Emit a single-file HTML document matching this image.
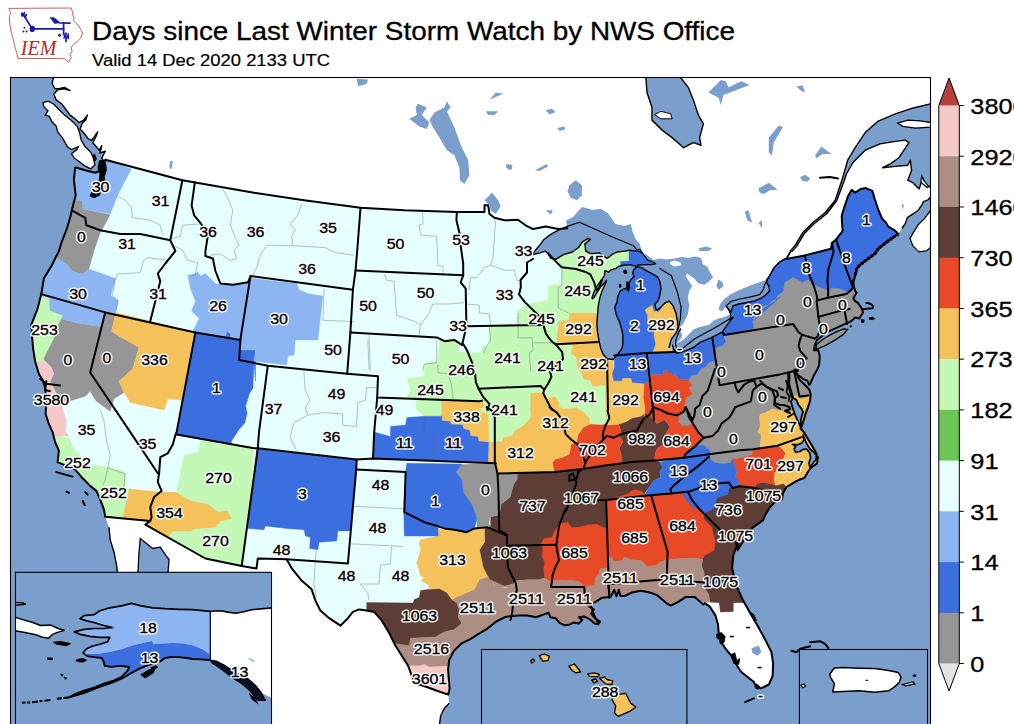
<!DOCTYPE html><html><head><meta charset="utf-8"><title>IEM</title><style>html,body{margin:0;padding:0;background:#fff}svg{display:block}text{font-family:"Liberation Sans",sans-serif}</style></head><body>
<svg width="1014" height="724" viewBox="0 0 1014 724">
<rect width="1014" height="724" fill="#fff"/>
<defs>
<clipPath id="mapclip"><rect x="10.5" y="77.5" width="920.0" height="646.5"/></clipPath>
<clipPath id="conus"><path d="M75.2,167.2 L73.9,180.2 L75.7,195.3 L73.1,205.3 L71.9,210.3 L70.1,217.8 L67.1,227.8 L61.4,242.8 L58.9,251.1 L51.4,266 L43.8,278.6 L41.3,294.1 L37.6,308.6 L31.3,324.9 L32.1,336.2 L33.1,348.7 L35.1,361.2 L38.8,373.7 L42.6,380 L45.1,387.5 L46.3,401.3 L45.6,413.8 L48.8,423.8 L52.6,432.1 L55.1,442 L58.9,450.8 L57.6,462.1 L66.4,465.8 L75.2,469.6 L82.7,478.3 L90.2,485.9 L96.4,490.9 L100.2,499.6 L104,509.7 L105.2,516.7 L150.3,520.9 L145.3,524.7 L205.4,558.5 L241.7,566 L256.5,568.5 L257.8,558.5 L286.6,559.3 L286.6,559.3 L291.6,568.1 L301.6,580.6 L311.6,589.3 L315.4,600.6 L320.4,610.6 L329.2,618.2 L340.4,625.7 L347.9,618.2 L352.9,611.9 L359.2,609.4 L366.7,610.6 L374.2,611.9 L381.8,620.7 L389.3,633.2 L395.5,645.7 L401.8,655.7 L408.1,665.7 L411.8,675.8 L415.6,683.3 L426.8,687 L436.9,690.8 L448.1,694.6 L449.6,689 L449.1,682.6 L448.1,669.6 L449.1,660.4 L453.7,651.1 L461.1,643.7 L470.4,639.1 L477.8,634.4 L487,628.9 L496.3,621.5 L505.6,616.9 L507.8,616.4 L518.4,615.5 L527.3,615.5 L536.2,617.3 L543.3,614.6 L548.6,612.8 L550.4,617.3 L555.7,618.2 L559.2,622.6 L564.6,625.3 L569.9,624.4 L573.4,622.6 L578.8,623.5 L582.3,619.9 L578.8,617.3 L584.1,616.4 L589.4,619.1 L594.7,623.5 L598.3,624.4 L600.1,621.7 L594.7,618.2 L591.2,613.7 L593.9,609.3 L589.4,606.6 L593,603.1 L596.5,601.3 L601.8,597.8 L610.7,596.9 L614.3,589.8 L616.4,596.3 L618.7,589.8 L620.5,596 L624.9,596 L632,592.4 L640.9,590.7 L649.8,592.4 L656.9,595.1 L662.2,599.5 L667.5,604 L670.8,605.6 L678.3,601.9 L685.9,596.9 L694.6,596.9 L703.4,604.4 L705,603.1 L710,606.9 L715.5,615.6 L718,624.4 L718.8,634.4 L721.3,641.9 L725.1,648.2 L731.3,655.7 L736.3,664.5 L741.3,672 L747.6,677 L753.9,682 L756.4,687.8 L761.4,688.3 L768.9,684.5 L772.6,675.8 L773.1,663.2 L771.4,652 L765.1,639.4 L757.6,625.7 L750.1,613.1 L742.6,599.4 L736.3,585.6 L732.1,568.1 L733.3,555.5 L737.6,543 L737.6,550.3 L743.8,540.3 L752.6,527.8 L763.1,520.1 L765.8,513.9 L770.3,506.8 L775.7,501.4 L782,499.6 L782.9,493.3 L786.5,487 L791,484.3 L795.4,481.6 L799,479.8 L804.4,478 L808,471.7 L811.6,467.2 L817,463.6 L817.9,457.4 L815.2,451.1 L809.8,442.1 L804.4,433.1 L801.2,428.6 L801.5,429.9 L800.5,428.3 L801.6,426 L802,425.6 L803.9,419.5 L805.4,414.2 L807.7,408.1 L810,401.3 L810.7,394.4 L809.3,389.4 L806.4,386.5 L803.4,383.5 L799.4,379.6 L797,374.7 L794.5,369.7 L797.5,374.7 L803.4,379.1 L807.3,380.6 L809.3,385 L810.3,383.5 L814.2,374.7 L817.2,369.7 L819.2,364.8 L819.7,355.9 L818.2,350 L813.9,350.2 L814.8,345.1 L816.8,340.2 L827.6,331.8 L836.5,327.8 L846.4,323.4 L850.8,321.4 L855.2,317.5 L859.2,318.5 L863.1,312.5 L862.1,309.6 L860.2,306.1 L858.2,303.2 L855.2,301.2 L853.3,298.7 L854.7,295.8 L856.7,292.8 L855.2,290.8 L853.7,285.9 L853.3,280 L852.5,286 L853.4,282.4 L855.2,275.2 L857,268 L860.6,264.4 L867.8,259 L875,253.6 L878.6,248.3 L885.7,242.9 L892.9,237.5 L898.3,233.9 L898.3,233.9 L894.7,230.3 L888.4,226.7 L885.7,222.2 L882.1,218.6 L878.6,210.5 L875,199.8 L872.3,190.8 L866,188.1 L860.6,189 L855.2,192.6 L851.6,189.9 L848,196.2 L844.4,206.9 L841.7,215.9 L842.6,231.2 L839,235.7 L836.3,239.3 L831.9,242.9 L831,248.8 L804.9,255.4 L784.5,259.2 L779.6,262.3 L774.6,267.3 L769.6,276 L764.6,284.7 L763.4,289.7 L759.7,294.7 L749.7,297.2 L739.8,299 L731,301.5 L726.1,305.9 L729.2,310.8 L731,315.8 L729.8,320 L732.9,316.9 L715,327.7 L695.2,338.5 L679,351.1 L677.2,350.2 L675.4,343.9 L676.3,338.5 L678.7,332.2 L680.8,328.6 L669.2,347.9 L669.9,344.4 L671.4,339.2 L674.4,335.4 L678.1,329.5 L680.3,319 L681.1,307.1 L677.4,292.2 L671.4,275.8 L659.5,268.3 L655,262.8 L647.8,260.1 L642.4,252.9 L637.9,251.1 L633.4,245.7 L611.9,236.7 L579.5,222.3 L568.7,225.9 L568.1,228.3 L558.1,229.1 L545.6,226.6 L533.1,229.1 L525.5,225.3 L518,219.8 L508,220.3 L504.5,220.3 L494.5,217.8 L489.5,214 L488.2,205.3 L484.5,205.3 L484.5,212 L456.9,212 L404.3,210.3 L360.5,207.8 L304.1,200.3 L254,192.7 L182.4,180.2 L105.2,159.7 L105.2,159.7 L104,166.4 L100.2,170.7 L95.2,172.7 L85.2,170.2 L75.2,167.2Z"/></clipPath>
</defs>
<g clip-path="url(#mapclip)">
<rect x="10.5" y="77.5" width="920.0" height="646.5" fill="#7b9fcc"/>
<path d="M54,77.5 L53.5,77.5 L52.1,83.3 L54.9,88.8 L59.7,88.5 L64.5,87.4 L70.1,90.5 L64.5,88.8 L57.6,89.9 L53.8,94.3 L56.2,99.9 L61.8,104 L65.9,109.5 L70.1,115.1 L75.6,119.2 L79,122.7 L83.9,119.9 L87.3,115.1 L85.9,119.9 L82.5,122.7 L80,128.9 L83.9,133 L88,138.5 L91.5,140.6 L94.9,135.8 L97.7,131.9 L96,136.5 L92.8,142.7 L96.3,146.8 L99.1,150.3 L101.8,145.7 L100.7,150.3 L99.8,153 L105.3,151.2 L101.8,157.9 L103.9,161.3 L105.2,159.7 L104,166.4 L100.2,170.7 L95.2,172.7 L85.2,170.2 L75.2,167.2 L73.9,180.2 L75.7,195.3 L73.1,205.3 L71.9,210.3 L70.1,217.8 L67.1,227.8 L61.4,242.8 L58.9,251.1 L51.4,266 L43.8,278.6 L41.3,294.1 L37.6,308.6 L31.3,324.9 L32.1,336.2 L33.1,348.7 L35.1,361.2 L38.8,373.7 L42.6,380 L45.1,387.5 L46.3,401.3 L45.6,413.8 L48.8,423.8 L52.6,432.1 L55.1,442 L58.9,450.8 L57.6,462.1 L66.4,465.8 L75.2,469.6 L82.7,478.3 L90.2,485.9 L96.4,490.9 L100.2,499.6 L104,509.7 L105.2,516.7 L109,527.2 L110.2,539.7 L114,552.2 L116.5,564.8 L117.7,574.8 L118,730 L439.4,725.9 L440.6,715.8 L444.4,708.3 L449.4,703.3 L448.1,694.6 L449.6,689 L449.1,682.6 L448.1,669.6 L449.1,660.4 L453.7,651.1 L461.1,643.7 L470.4,639.1 L477.8,634.4 L487,628.9 L496.3,621.5 L505.6,616.9 L507.8,616.4 L518.4,615.5 L527.3,615.5 L536.2,617.3 L543.3,614.6 L548.6,612.8 L550.4,617.3 L555.7,618.2 L559.2,622.6 L564.6,625.3 L569.9,624.4 L573.4,622.6 L578.8,623.5 L582.3,619.9 L578.8,617.3 L584.1,616.4 L589.4,619.1 L594.7,623.5 L598.3,624.4 L600.1,621.7 L594.7,618.2 L591.2,613.7 L593.9,609.3 L589.4,606.6 L593,603.1 L596.5,601.3 L601.8,597.8 L610.7,596.9 L614.3,589.8 L616.4,596.3 L618.7,589.8 L620.5,596 L624.9,596 L632,592.4 L640.9,590.7 L649.8,592.4 L656.9,595.1 L662.2,599.5 L667.5,604 L670.8,605.6 L678.3,601.9 L685.9,596.9 L694.6,596.9 L703.4,604.4 L705,603.1 L710,606.9 L715.5,615.6 L718,624.4 L718.8,634.4 L721.3,641.9 L725.1,648.2 L731.3,655.7 L736.3,664.5 L741.3,672 L747.6,677 L753.9,682 L756.4,687.8 L761.4,688.3 L768.9,684.5 L772.6,675.8 L773.1,663.2 L771.4,652 L765.1,639.4 L757.6,625.7 L750.1,613.1 L742.6,599.4 L736.3,585.6 L732.1,568.1 L733.3,555.5 L737.6,543 L737.6,550.3 L743.8,540.3 L752.6,527.8 L763.1,520.1 L765.8,513.9 L770.3,506.8 L775.7,501.4 L782,499.6 L782.9,493.3 L786.5,487 L791,484.3 L795.4,481.6 L799,479.8 L804.4,478 L808,471.7 L811.6,467.2 L817,463.6 L817.9,457.4 L815.2,451.1 L809.8,442.1 L804.4,433.1 L801.2,428.6 L801.5,429.9 L800.5,428.3 L801.6,426 L802,425.6 L803.9,419.5 L805.4,414.2 L807.7,408.1 L810,401.3 L810.7,394.4 L809.3,389.4 L806.4,386.5 L803.4,383.5 L799.4,379.6 L797,374.7 L794.5,369.7 L797.5,374.7 L803.4,379.1 L807.3,380.6 L809.3,385 L810.3,383.5 L814.2,374.7 L817.2,369.7 L819.2,364.8 L819.7,355.9 L818.2,350 L813.9,350.2 L814.8,345.1 L816.8,340.2 L827.6,331.8 L836.5,327.8 L846.4,323.4 L850.8,321.4 L855.2,317.5 L859.2,318.5 L863.1,312.5 L862.1,309.6 L860.2,306.1 L858.2,303.2 L855.2,301.2 L853.3,298.7 L854.7,295.8 L856.7,292.8 L855.2,290.8 L853.7,285.9 L853.3,280 L852.5,286 L853.4,282.4 L855.2,275.2 L857,268 L860.6,264.4 L867.8,259 L875,253.6 L878.6,248.3 L885.7,242.9 L892.9,237.5 L898.3,233.9 L901.9,228.5 L905.5,223.1 L907.3,217.7 L912.7,214.1 L918.1,210.5 L921.7,205.1 L923.5,201.6 L928,199.8 L930.6,197.1 L940,205 L940,188 L932.8,187.7 L925.3,185.2 L922.8,177.7 L919.1,189 L912.8,182.7 L907.8,180.2 L911.6,170.2 L910.3,160.2 L907.8,165.2 L895.3,166.4 L882.7,167.7 L890.3,163.9 L899,157.7 L904,150.2 L909,142.6 L905.3,140.1 L895.3,141.4 L880.2,143.9 L865.2,150.2 L853.2,162.2 L846.4,174 L844.4,180.2 L836.7,200.8 L826.6,213.8 L814.1,223.8 L804.1,233.8 L796.6,246.4 L791.6,251.9 L790.1,251.1 L795.1,245.4 L802.6,232.8 L812.6,222.8 L825.1,212.8 L835.2,200.3 L842.7,177.7 L847.7,160.2 L855.2,147.7 L865.2,132.6 L877.7,121.4 L895.3,113.8 L910.3,108.8 L932.8,103.3 L940,103 L940,70 L54,70Z" fill="#fff"/>
<path d="M43.1,102.6 L48,101.2 L53.5,104 L59,109.5 L64.5,115.1 L71.4,120.6 L77,126.1 L79.7,133 L81.1,139.9 L85.2,146.8 L90.8,152.3 L93.5,157.9 L94.9,164.8 L90.8,168.9 L85.2,166.2 L79.7,162 L74.2,157.9 L71.4,153.7 L77,149.6 L78.3,146.8 L71.4,149.6 L67.3,146.8 L64.5,141.3 L61.8,137.2 L57.6,131.6 L56.2,126.1 L52.1,122 L49.3,116.4 L45.2,115.1 L48,110.9 L43.8,106.8Z" fill="#fff" stroke="#000" stroke-width="1.3"/>
<path d="M930.6,210.5 L924.4,218.6 L918.1,224.9 L913.6,232.1 L910,238.4 L912.7,245.6 L919,251.9 L926.2,251 L930.6,247.4Z" fill="#fff" stroke="#000" stroke-width="1.3"/>
<path d="M897.8,123.1 L907.8,120.1 L920.3,120.9 L931.6,122.6 L931.6,127.1 L915.3,128.1 L902.8,126.4Z" fill="#fff" stroke="#000" stroke-width="1.3"/>
<path d="M816.5,344.5 L824.7,338 L834.5,332.6 L843.4,329 L847.5,329.5 L843.4,334.4 L834.5,340.4 L824.7,345.8 L815.8,349.3Z" fill="#969696" stroke="#000" stroke-width="1.3"/>
<path d="M137.8,574.8 L139,552.2 L140.3,538.5 L146.5,543.5 L152.8,548.5 L160.3,547.2 L165.3,554.7 L169.1,559.8 L167.8,574.8Z" fill="#7b9fcc" stroke="#000" stroke-width="1.3"/>
<path d="M53.5,77.5 L52.1,83.3 L54.9,88.8 L59.7,88.5 L64.5,87.4 L70.1,90.5 L64.5,88.8 L57.6,89.9 L53.8,94.3 L56.2,99.9 L61.8,104 L65.9,109.5 L70.1,115.1 L75.6,119.2 L79,122.7 L83.9,119.9 L87.3,115.1 L85.9,119.9 L82.5,122.7 L80,128.9 L83.9,133 L88,138.5 L91.5,140.6 L94.9,135.8 L97.7,131.9 L96,136.5 L92.8,142.7 L96.3,146.8 L99.1,150.3 L101.8,145.7 L100.7,150.3 L99.8,153 L105.3,151.2 L101.8,157.9 L103.9,161.3" fill="none" stroke="#000" stroke-width="1.4" stroke-linejoin="round"/>
<path d="M109,527.2 L110.2,539.7 L114,552.2 L116.5,564.8 L117.7,574.8" fill="none" stroke="#000" stroke-width="1.4" stroke-linejoin="round"/>
<path d="M449.4,703.3 L444.4,708.3 L440.6,715.8 L439.4,725.9" fill="none" stroke="#000" stroke-width="1.4" stroke-linejoin="round"/>
<path d="M901.9,228.5 L905.5,223.1 L907.3,217.7 L912.7,214.1 L918.1,210.5 L921.7,205.1 L923.5,201.6 L928,199.8 L930.6,197.1" fill="none" stroke="#000" stroke-width="1.4" stroke-linejoin="round"/>
<path d="M932.8,187.7 L925.3,185.2 L922.8,177.7 L919.1,189 L912.8,182.7 L907.8,180.2 L911.6,170.2 L910.3,160.2 L907.8,165.2 L895.3,166.4 L882.7,167.7 L890.3,163.9 L899,157.7 L904,150.2 L909,142.6 L905.3,140.1 L895.3,141.4 L880.2,143.9 L865.2,150.2 L853.2,162.2 L846.4,174 L844.4,180.2 L836.7,200.8 L826.6,213.8 L814.1,223.8 L804.1,233.8 L796.6,246.4 L791.6,251.9" fill="none" stroke="#000" stroke-width="1.4" stroke-linejoin="round"/>
<path d="M790.1,251.1 L795.1,245.4 L802.6,232.8 L812.6,222.8 L825.1,212.8 L835.2,200.3 L842.7,177.7 L847.7,160.2 L855.2,147.7 L865.2,132.6 L877.7,121.4 L895.3,113.8 L910.3,108.8 L932.8,103.3" fill="none" stroke="#000" stroke-width="1.4" stroke-linejoin="round"/>
<path d="M645.8,76.3 L647,92.5 L652,107.6 L652,120.1 L662.1,130.1 L672.1,137.6 L680.8,145.2 L683.4,147.7 L693.4,142.6 L700.9,145.2 L699.6,137.6 L703.4,123.9 L698.4,115.1 L693.4,100.1 L688.4,87.5 L679.6,76.3Z" fill="#7b9fcc" stroke="#000" stroke-width="1.4"/>
<path d="M654.5,114.6 L660.8,111.3 L670.8,113.8 L672.1,118.8 L660.8,118.8Z" fill="#fff" stroke="#000" stroke-width="1"/>
<path d="M446.9,101.3 L450.6,107.6 L446.9,111.3 L454.4,127.6 L461.9,147.7 L468.2,160.2 L469.4,175.2 L464.4,184 L459.9,180.2 L459.4,167.7 L454.4,155.2 L446.9,150.2 L439.4,137.6 L433.1,127.6 L429.4,120.1 L434.4,112.6 L444.4,107.6Z" fill="#7b9fcc"/>
<path d="M418.1,103.8 L426.8,107.6 L421.8,115.1 L429.4,122.6 L426.8,128.9 L419.3,126.4 L409.3,118.8 L416.8,115.1 L415.6,107.6Z" fill="#7b9fcc"/>
<path d="M484.5,200.3 L492,192.7 L498.2,200.3 L500.7,206.5 L495.7,214 L490.7,210.3 L489.5,205.3Z" fill="#7b9fcc"/>
<path d="M569.4,185.2 L575.6,180.2 L581.9,185.2 L581.9,195.3 L576.9,200.3 L570.6,197.8 L567.6,191.5Z" fill="#7b9fcc"/>
<path d="M718.4,279.4 L722.5,282.1 L723.2,286.3 L719,289.7 L716.3,286.3Z" fill="#7b9fcc"/>
<path d="M356.7,78.8 L368,79.5 L366.7,83.8 L358,86.3Z" fill="#7b9fcc"/>
<path d="M489.5,100.1 L495.7,92.5 L503.2,93.8 L494.5,97.6Z" fill="#7b9fcc"/>
<path d="M485.7,111.3 L498.2,111.3 L494.5,115.1 L488.2,115.1Z" fill="#7b9fcc"/>
<path d="M505.8,163.9 L509.5,165.2 L509.5,168.9 L506.5,168.2Z" fill="#7b9fcc"/>
<path d="M545.6,110.1 L551.8,108.8 L555.6,112.1 L549.3,114.6Z" fill="#7b9fcc"/>
<path d="M557.3,128.1 L564.4,126.4 L565.1,129.6 L559.4,130.9Z" fill="#7b9fcc"/>
<path d="M508,163.9 L512.5,165.2 L511.8,169.4 L508,169.4Z" fill="#7b9fcc"/>
<path d="M535.1,170.2 L546.8,163.9 L548.1,166.4 L539.3,171Z" fill="#7b9fcc"/>
<path d="M545.6,210.3 L552.6,210.3 L551.1,214.8Z" fill="#7b9fcc"/>
<path d="M708.4,92.5 L720.9,80 L725.9,81.3 L728.4,87.5 L741,81.3 L749.7,85 L733.5,91.3 L723.4,95.1 L720.9,105.1 L718.4,97.6Z" fill="#7b9fcc"/>
<path d="M744.7,211.5 L748.5,210.3 L752.2,222.8 L747.2,220.3Z" fill="#7b9fcc"/>
<path d="M758.5,187.7 L762,187.7 L762,192.7 L759.3,192.2Z" fill="#7b9fcc"/>
<path d="M758.5,222.8 L762,220.3 L762,228.3Z" fill="#7b9fcc"/>
<path d="M698.4,248.4 L705.9,246.6 L712.2,248.4 L708.4,251.1 L699.6,251.1Z" fill="#7b9fcc"/>
<path d="M796.3,86.3 L802.6,85.5 L805.1,92.5 L800.1,90Z" fill="#7b9fcc"/>
<path d="M768.8,137.6 L778.8,125.6 L783,127.1 L773.8,142.6 L772,155.2 L768.8,152.7Z" fill="#7b9fcc"/>
<path d="M815.1,155.2 L821.4,146.4 L826.4,150.2 L831.4,153.9 L822.6,153.9 L816.4,158.2Z" fill="#7b9fcc"/>
<path d="M800.1,177.2 L805.1,174.7 L810.1,178.2 L807.6,181.7 L802.1,180.7Z" fill="#7b9fcc"/>
<path d="M760,187.7 L768.8,182.7 L777.5,189.7 L770,190.2 L763.8,194 L760,192.7Z" fill="#7b9fcc"/>
<path d="M901.5,204 L904,204.8 L902.8,209.8Z" fill="#7b9fcc"/>
<path d="M170.3,161.4 L172.8,160.7 L171.3,170.2 L169.3,166.4Z" fill="#7b9fcc"/>
<path d="M790.8,251.1 L788.5,255 L786.5,258.5 L784.5,259.2 L779.6,262.3 L774.6,267.3 L769.6,276 L766.5,280.4" fill="none" stroke="#000" stroke-width="1.8" stroke-linejoin="round"/>
<path d="M921.9,175.9 L923.3,179.9 L925.8,182.8 L928.8,186.8 L926.8,187.3 L923.8,184.8 L921.4,182.8 L920.9,179.9Z" fill="#fff" stroke="#000" stroke-width="1.2"/>
<g clip-path="url(#conus)">
<path d="M75.2,167.2 L73.9,180.2 L75.7,195.3 L73.1,205.3 L71.9,210.3 L70.1,217.8 L67.1,227.8 L61.4,242.8 L58.9,251.1 L51.4,266 L43.8,278.6 L41.3,294.1 L37.6,308.6 L31.3,324.9 L32.1,336.2 L33.1,348.7 L35.1,361.2 L38.8,373.7 L42.6,380 L45.1,387.5 L46.3,401.3 L45.6,413.8 L48.8,423.8 L52.6,432.1 L55.1,442 L58.9,450.8 L57.6,462.1 L66.4,465.8 L75.2,469.6 L82.7,478.3 L90.2,485.9 L96.4,490.9 L100.2,499.6 L104,509.7 L105.2,516.7 L150.3,520.9 L145.3,524.7 L205.4,558.5 L241.7,566 L256.5,568.5 L257.8,558.5 L286.6,559.3 L286.6,559.3 L291.6,568.1 L301.6,580.6 L311.6,589.3 L315.4,600.6 L320.4,610.6 L329.2,618.2 L340.4,625.7 L347.9,618.2 L352.9,611.9 L359.2,609.4 L366.7,610.6 L374.2,611.9 L381.8,620.7 L389.3,633.2 L395.5,645.7 L401.8,655.7 L408.1,665.7 L411.8,675.8 L415.6,683.3 L426.8,687 L436.9,690.8 L448.1,694.6 L449.6,689 L449.1,682.6 L448.1,669.6 L449.1,660.4 L453.7,651.1 L461.1,643.7 L470.4,639.1 L477.8,634.4 L487,628.9 L496.3,621.5 L505.6,616.9 L507.8,616.4 L518.4,615.5 L527.3,615.5 L536.2,617.3 L543.3,614.6 L548.6,612.8 L550.4,617.3 L555.7,618.2 L559.2,622.6 L564.6,625.3 L569.9,624.4 L573.4,622.6 L578.8,623.5 L582.3,619.9 L578.8,617.3 L584.1,616.4 L589.4,619.1 L594.7,623.5 L598.3,624.4 L600.1,621.7 L594.7,618.2 L591.2,613.7 L593.9,609.3 L589.4,606.6 L593,603.1 L596.5,601.3 L601.8,597.8 L610.7,596.9 L614.3,589.8 L616.4,596.3 L618.7,589.8 L620.5,596 L624.9,596 L632,592.4 L640.9,590.7 L649.8,592.4 L656.9,595.1 L662.2,599.5 L667.5,604 L670.8,605.6 L678.3,601.9 L685.9,596.9 L694.6,596.9 L703.4,604.4 L705,603.1 L710,606.9 L715.5,615.6 L718,624.4 L718.8,634.4 L721.3,641.9 L725.1,648.2 L731.3,655.7 L736.3,664.5 L741.3,672 L747.6,677 L753.9,682 L756.4,687.8 L761.4,688.3 L768.9,684.5 L772.6,675.8 L773.1,663.2 L771.4,652 L765.1,639.4 L757.6,625.7 L750.1,613.1 L742.6,599.4 L736.3,585.6 L732.1,568.1 L733.3,555.5 L737.6,543 L737.6,550.3 L743.8,540.3 L752.6,527.8 L763.1,520.1 L765.8,513.9 L770.3,506.8 L775.7,501.4 L782,499.6 L782.9,493.3 L786.5,487 L791,484.3 L795.4,481.6 L799,479.8 L804.4,478 L808,471.7 L811.6,467.2 L817,463.6 L817.9,457.4 L815.2,451.1 L809.8,442.1 L804.4,433.1 L801.2,428.6 L801.5,429.9 L800.5,428.3 L801.6,426 L802,425.6 L803.9,419.5 L805.4,414.2 L807.7,408.1 L810,401.3 L810.7,394.4 L809.3,389.4 L806.4,386.5 L803.4,383.5 L799.4,379.6 L797,374.7 L794.5,369.7 L797.5,374.7 L803.4,379.1 L807.3,380.6 L809.3,385 L810.3,383.5 L814.2,374.7 L817.2,369.7 L819.2,364.8 L819.7,355.9 L818.2,350 L813.9,350.2 L814.8,345.1 L816.8,340.2 L827.6,331.8 L836.5,327.8 L846.4,323.4 L850.8,321.4 L855.2,317.5 L859.2,318.5 L863.1,312.5 L862.1,309.6 L860.2,306.1 L858.2,303.2 L855.2,301.2 L853.3,298.7 L854.7,295.8 L856.7,292.8 L855.2,290.8 L853.7,285.9 L853.3,280 L852.5,286 L853.4,282.4 L855.2,275.2 L857,268 L860.6,264.4 L867.8,259 L875,253.6 L878.6,248.3 L885.7,242.9 L892.9,237.5 L898.3,233.9 L898.3,233.9 L894.7,230.3 L888.4,226.7 L885.7,222.2 L882.1,218.6 L878.6,210.5 L875,199.8 L872.3,190.8 L866,188.1 L860.6,189 L855.2,192.6 L851.6,189.9 L848,196.2 L844.4,206.9 L841.7,215.9 L842.6,231.2 L839,235.7 L836.3,239.3 L831.9,242.9 L831,248.8 L804.9,255.4 L784.5,259.2 L779.6,262.3 L774.6,267.3 L769.6,276 L764.6,284.7 L763.4,289.7 L759.7,294.7 L749.7,297.2 L739.8,299 L731,301.5 L726.1,305.9 L729.2,310.8 L731,315.8 L729.8,320 L732.9,316.9 L715,327.7 L695.2,338.5 L679,351.1 L677.2,350.2 L675.4,343.9 L676.3,338.5 L678.7,332.2 L680.8,328.6 L669.2,347.9 L669.9,344.4 L671.4,339.2 L674.4,335.4 L678.1,329.5 L680.3,319 L681.1,307.1 L677.4,292.2 L671.4,275.8 L659.5,268.3 L655,262.8 L647.8,260.1 L642.4,252.9 L637.9,251.1 L633.4,245.7 L611.9,236.7 L579.5,222.3 L568.7,225.9 L568.1,228.3 L558.1,229.1 L545.6,226.6 L533.1,229.1 L525.5,225.3 L518,219.8 L508,220.3 L504.5,220.3 L494.5,217.8 L489.5,214 L488.2,205.3 L484.5,205.3 L484.5,212 L456.9,212 L404.3,210.3 L360.5,207.8 L304.1,200.3 L254,192.7 L182.4,180.2 L105.2,159.7 L105.2,159.7 L104,166.4 L100.2,170.7 L95.2,172.7 L85.2,170.2 L75.2,167.2Z" fill="#e6ffff"/>
<path d="M439.4,341.2 L438.1,361.2 L424.3,363.7 L424.3,376.3 L406.8,378.8 L410.6,390 L406.8,397.5 L416.8,398.8 L415.6,408.8 L424.3,416.3 L441.9,416.3 L444.4,403.8 L488.9,421.6 L488.9,441.7 L502.9,441.7 L502.9,437.7 L511.9,435.9 L515.4,430.5 L521.7,426.9 L524.4,425.1 L530.7,418 L531.6,400 L530.7,393.2 L544.2,392.8 L546,398.6 L555,396.8 L558.6,402.1 L559.5,410.1 L558.6,407.2 L563.9,409 L576.5,408.1 L583.7,412.6 L589.1,418 L590.9,424.3 L601.7,425.1 L608,423.4 L608.9,410.8 L607.1,400 L608,385.1 L608,359.9 L599.8,298.1 L606.5,280.3 L620.7,264.6 L620.7,261.6 L628.9,260.9 L628.9,248.9 L611.9,243.9 L590.3,233.1 L558,249.3 L548.1,253.8 L556.2,260.1 L561.6,267.2 L561.6,283.4 L558.9,287 L559.5,280 L558.6,284.5 L548.7,285.4 L547.8,300.7 L540.6,301.6 L529.8,303.4 L524.4,306 L517.2,311.4 L517.2,324 L491.2,324.9 L489.4,327.6 L489.4,345.6 L482.2,346.5 L482.2,352.8 L458,351.9 L458,342 L450.8,339.3 L440,340.2Z" fill="#c3f8b6" stroke="#c3f8b6" stroke-width="0.4"/>
<path d="M37.6,294.1 L49.3,298.6 L50.1,310.6 L63.1,315.6 L57.6,326.2 L56.4,333.7 L48.8,348.7 L43.8,358.7 L45.1,361.2 L37.6,362.5 L25.1,361.2 L25.1,326.2 L32.6,308.6Z" fill="#c3f8b6" stroke="#c3f8b6" stroke-width="0.4"/>
<path d="M50.1,435.8 L60.1,436.5 L68.9,438.3 L73.9,448.3 L87.7,464.1 L106.5,467.1 L125.3,472.1 L125.3,488.4 L129,489.1 L122.7,518.4 L105.2,518.4 L95.2,507.2 L75.2,482.1 L50.1,467.1Z" fill="#c3f8b6" stroke="#c3f8b6" stroke-width="0.4"/>
<path d="M200.4,440.8 L253.5,448.3 L250.5,514.7 L246.7,515.9 L241.7,566 L205.4,558.5 L167.8,537.2 L176.6,492.1 L184.1,455.8 L197.9,452Z" fill="#c3f8b6" stroke="#c3f8b6" stroke-width="0.4"/>
<path d="M517.2,473.6 L554.1,471.9 L580.1,469.2 L583.4,469.2 L604.9,465.6 L622,462.9 L621.1,453.9 L619.3,448.5 L622.9,441.3 L619.3,435.9 L621.1,430.5 L618.4,424.3 L626.5,421.6 L631.9,418 L640.8,416.2 L644.4,413.5 L648.9,414.4 L651.6,418 L657,423.4 L664.2,419.8 L667.8,423.4 L669.6,426.9 L666.9,432.3 L664.2,435.9 L666,441.3 L662.4,444.9 L657,448.5 L655.2,453.9 L654.3,460.2 L659.7,462 L662.4,467.4 L659.7,471.9 L660.6,477.2 L653.4,480.8 L649.8,486.2 L644.4,493.4 L651.4,496.2 L682.9,492.6 L727.8,494.4 L720.6,481.8 L734.4,479.8 L738.9,486.1 L755,487 L756.8,483.4 L763.1,482.5 L770.3,483.4 L775.7,485.2 L783.8,483.4 L786.5,487 L827.8,487 L791.9,551.7 L775.2,618.2 L742.6,603.1 L733.8,603.1 L733.8,611.9 L720,612.6 L718.8,603.1 L710,603.1 L708.9,595 L704.4,587.8 L702.6,580.6 L704.4,573.4 L701.7,566.2 L702.6,559 L641.7,561.9 L605.7,567.2 L569.8,579.8 L543.8,578 L539.3,579.8 L526.7,579.8 L515.9,580.7 L514.1,583.4 L505.1,586.1 L496.2,587 L494.4,583.4 L487.2,578 L480,576.2 L479.5,549.7 L484.5,542.2 L484.5,528.4 L490.7,525.9 L490.7,515.9 L500.7,504.6 L490.3,516.8 L499.3,515 L501.1,504.2 L510.1,497 L513.6,484.4 L517.2,479Z" fill="#5e3d36" stroke="#5e3d36" stroke-width="0.4"/>
<path d="M366.7,602.6 L413.1,603.1 L414.3,599.4 L419.3,597.6 L420.6,590.6 L429.4,589.3 L439.4,588.6 L446.9,592.6 L451.9,599.4 L456.9,603.1 L459.4,610.6 L458.2,616.9 L461.9,623.2 L454.4,629.4 L444.4,631.9 L435.6,636.9 L410.6,638.2 L409.3,645.7 L401.8,645.7 L384.3,648.2 L366.7,618.2Z" fill="#5e3d36" stroke="#5e3d36" stroke-width="0.4"/>
<path d="M389.3,641.9 L394.3,643.2 L409.3,645.7 L410.6,638.2 L435.6,636.9 L444.4,631.9 L454.4,629.4 L461.9,623.2 L458.2,616.9 L459.4,610.6 L456.9,603.1 L451.9,599.4 L456.9,596.9 L474.4,589.3 L479.5,579.3 L488.2,576.8 L495.7,586.8 L508,588.1 L487.2,578 L494.4,583.4 L496.2,587 L505.1,586.1 L514.1,583.4 L515.9,580.7 L526.7,579.8 L539.3,579.8 L543.8,578 L551,581.6 L555.4,579.8 L569.8,579.8 L579.7,581.6 L584.2,586.1 L594.1,585.2 L595,578 L598.6,574.4 L599.5,568.1 L606.6,567.2 L608.4,556.5 L612.9,557.4 L613.8,561 L621.9,560.1 L623.7,556.5 L625.4,556.3 L630.8,559 L641.6,559.9 L646.9,566.2 L655.9,565.3 L664.9,559 L679.3,558.1 L695.4,557.2 L702.6,559 L701.7,566.2 L704.4,573.4 L702.6,580.6 L704.4,587.8 L708.9,595 L709.8,603.9 L709.8,623.7 L479.5,718.4 L394.3,683.3Z" fill="#ac8e85" stroke="#ac8e85" stroke-width="0.4"/>
<path d="M62.6,209 L70.1,200.3 L82.7,200.3 L82.7,209 L110.2,214.8 L100.2,232.8 L93.9,251.1 L93.9,251 L88.9,269 L82.7,274 L72.6,271.5 L67.6,264.8 L56.4,257.3 L48.8,266 L37.6,266 L50.1,245.4Z" fill="#969696" stroke="#969696" stroke-width="0.4"/>
<path d="M61.4,319.1 L75.2,322.4 L99.7,326.7 L105.2,312.4 L115.7,312.4 L111.5,331.2 L119,336.2 L139,347.4 L132.8,368.7 L119,381.3 L124,392.5 L114,398.8 L110.2,411.3 L96.4,401.3 L90.2,391.3 L85.2,396.3 L68.9,401.3 L60.1,401.3 L50.1,381.3 L53.9,373.7 L51.4,367.5 L45.1,361.2 L43.8,358.7 L48.8,348.7 L56.4,333.7 L57.6,326.2Z" fill="#969696" stroke="#969696" stroke-width="0.4"/>
<path d="M458,464.7 L494.8,462.9 L497.5,473.6 L517.2,473.6 L517.2,479 L513.6,484.4 L510.1,497 L501.1,504.2 L499.3,515 L490.3,516.8 L488.5,523.9 L490.7,525.9 L476.9,527.2 L476.9,518.4 L471.9,504.6 L463.2,492.1 L461.9,479.6 L455.7,472.1 L461.9,464.1Z" fill="#969696" stroke="#969696" stroke-width="0.4"/>
<path d="M691.6,375.3 L697,374.4 L700.6,369 L706,366.3 L709.6,361.9 L715,361 L715.9,347.5 L722.1,345.7 L725.7,342.1 L723.9,334.9 L753.6,328.6 L752.7,321.4 L754.5,316 L759.9,313.4 L761.7,306.2 L768.9,304.4 L772.4,300.8 L780,297.2 L754.7,320 L762.1,309.6 L769.6,304.6 L775.8,300.9 L777.1,295.9 L783.3,290.9 L784.5,282.2 L793.2,277.3 L798.2,279.8 L801.9,282.2 L808.2,279.8 L812.1,283.3 L821.1,287.8 L827.4,289.6 L833.6,287.8 L840.8,288.7 L846.2,291.4 L850.7,290.5 L857,286.9 L885.7,300.8 L885.7,325.9 L819.3,379.8 L813.9,420.1 L788.3,413.4 L781.1,410.7 L772.1,408.9 L765.8,412.5 L760.4,414.3 L759.5,416.9 L760.4,425.9 L757.7,432.2 L761.3,434.9 L759.9,448.6 L753.2,449.3 L752.3,454.7 L743.4,457.4 L732.6,459.2 L730.8,461.9 L720,463.6 L733.3,462 L721.7,463.8 L712.7,462 L709.1,456.6 L710.9,453.9 L709.1,449.4 L703.7,444.9 L696.5,445.8 L689.3,449.4 L683.9,457.5 L685.7,453.9 L694.7,446.7 L703.7,437.7 L698.3,432.3 L692.9,423.4 L689.3,418 L685.7,407.2 L683.9,400 L684.4,420.1 L686.2,412.1 L684.4,405 L686.2,397.8 L692.5,394.2 L688.9,387.9 L691.6,385.2 L688.9,379.8Z" fill="#969696" stroke="#969696" stroke-width="0.4"/>
<path d="M541.1,543.9 L543.8,538.5 L551.9,537.6 L555.4,529.5 L560.8,523.2 L568,522.3 L571.6,527.7 L580.6,526.8 L587.8,525 L596.8,524.1 L603.9,527.7 L606.1,527.7 L606.6,567.2 L599.5,568.1 L598.6,574.4 L595,578 L594.1,585.2 L584.2,586.1 L579.7,581.6 L569.8,579.8 L555.4,579.8 L551,581.6 L544.7,578 L543.8,569 L544.7,561.9 L542,556.5 L542.9,549.3Z" fill="#e84a27" stroke="#e84a27" stroke-width="0.4"/>
<path d="M606.1,500.8 L629.1,493.6 L628.3,496.1 L630.1,491.6 L635.4,489.8 L639.9,490.7 L644.4,493.4 L644.4,495.2 L671.4,493.4 L682.9,492.6 L684.7,498 L690.1,503.4 L691.9,506.9 L699,509.6 L704.4,513.2 L703.5,518.6 L708,523.1 L711.6,526.7 L713.4,533.9 L715.2,541.1 L714.3,550.1 L709.8,552.8 L704.4,555.4 L702.6,559 L695.4,557.2 L679.3,558.1 L666.7,559 L664.9,559 L655.9,565.3 L646.9,566.2 L641.6,559.9 L630.8,559 L625.4,556.3 L623.7,556.5 L621.9,560.1 L613.8,561 L612.9,557.4 L608.4,556.5 L606.6,567.2Z" fill="#e84a27" stroke="#e84a27" stroke-width="0.4"/>
<path d="M554.1,471 L552.3,462.9 L555,459.3 L562.1,457.5 L569.3,453.9 L571.1,444 L576.5,442.2 L578.3,434.1 L583.7,426.9 L590,424.3 L601.7,425.1 L608,423.4 L607.6,423.4 L606.7,425.1 L618.4,424.3 L621.1,430.5 L619.3,435.9 L622.9,441.3 L619.3,448.5 L621.1,453.9 L622,462.9 L604.9,465.6 L583.4,469.2 L578,471.9 L580.1,469.2Z" fill="#e84a27" stroke="#e84a27" stroke-width="0.4"/>
<path d="M649.4,374.4 L662.9,374.4 L663.8,370.8 L669.2,370.8 L670.1,373.5 L675.4,374.4 L679,378.9 L688.9,379.8 L691.6,385.2 L688.9,387.9 L692.5,394.2 L686.2,397.8 L684.4,405 L686.2,412.1 L684.4,420.1 L685.7,407.2 L689.3,418 L692.9,423.4 L698.3,432.3 L703.7,437.7 L694.7,446.7 L685.7,453.9 L683.9,457.5 L654.3,460.2 L655.2,453.9 L657,448.5 L662.4,444.9 L666,441.3 L664.2,435.9 L666.9,432.3 L669.6,426.9 L667.8,423.4 L664.2,419.8 L657,423.4 L651.6,418 L648.9,414.4 L644.4,413.5 L644,420.1 L644.9,408.6 L643.1,397.8 L644,383.4 L648.5,381.6Z" fill="#e84a27" stroke="#e84a27" stroke-width="0.4"/>
<path d="M753.2,449.3 L777.5,445.7 L781.1,447.5 L785.6,452.9 L783.8,458.3 L778.4,461.9 L779.3,470.8 L774.8,472.6 L773.9,479.8 L775.7,485.2 L770.3,483.4 L763.1,482.5 L756.8,483.4 L755,487 L738.9,486.1 L738,479.8 L735.3,476.2 L737.1,470.8 L734.4,465.4 L732.6,459.2 L743.4,457.4 L752.3,454.7Z" fill="#e84a27" stroke="#e84a27" stroke-width="0.4"/>
<path d="M441.8,400.5 L483.1,400.5 L484,407.2 L480.4,408.1 L480.4,412.6 L487.6,413.5 L488.5,421.6 L488.9,441.7 L478.6,441.3 L477.7,436.8 L470.5,435.9 L469.6,430.5 L463.4,428.7 L462.5,425.1 L450.8,424.3 L449.9,421.6 L441.8,420.7Z" fill="#f5c15a" stroke="#f5c15a" stroke-width="0.4"/>
<path d="M531.6,399.1 L546,399.1 L558.6,407.2 L563.9,409 L576.5,408.1 L583.7,412.6 L589.1,418 L590,424.3 L583.7,426.9 L578.3,434.1 L576.5,442.2 L571.1,444 L569.3,453.9 L562.1,457.5 L555,459.3 L552.3,462.9 L554.1,471 L497.5,472.8 L494.8,462 L488.5,462 L488.5,442.2 L502.9,441.7 L502.9,437.7 L511.9,435.9 L515.4,430.5 L521.7,426.9 L524.4,425.1 L530.7,418Z" fill="#f5c15a" stroke="#f5c15a" stroke-width="0.4"/>
<path d="M530.7,411.1 L530.7,393.2 L544.2,392.8 L546,398.6 L555,396.8 L558.6,402.1 L559.5,411.1Z" fill="#f5c15a" stroke="#f5c15a" stroke-width="0.4"/>
<path d="M558.6,321.7 L569.3,320.4 L569.3,313.2 L596.3,313.2 L601.7,324.9 L601.7,342 L602.6,353.6 L607.1,359.9 L613.3,360.8 L613.3,377 L608.9,385.1 L592.7,386 L590.9,380.6 L583.7,378.8 L581.9,373.4 L578.3,368 L576.5,357.2 L571.1,353.6 L572.9,344.7 L556.8,344.3 L557.7,332.1Z" fill="#f5c15a" stroke="#f5c15a" stroke-width="0.4"/>
<path d="M606.3,420.1 L605.4,379.8 L612.6,380.7 L613.5,380.7 L621.6,380.7 L622.5,378 L631.4,378 L632.3,382.5 L644,383.4 L643.1,397.8 L644.9,408.6 L644,420.1 L644.4,413.5 L640.8,416.2 L631.9,418 L626.5,421.6 L618.4,424.3 L606.7,425.1 L609.4,418 L607.6,410.8 L608.1,400Z" fill="#f5c15a" stroke="#f5c15a" stroke-width="0.4"/>
<path d="M115.7,312.4 L195.4,332.4 L181.6,400 L167.8,398.8 L164.1,410.1 L130.3,402.6 L124,392.5 L119,381.3 L132.8,368.7 L139,347.4 L119,336.2 L111.5,331.2Z" fill="#f5c15a" stroke="#f5c15a" stroke-width="0.4"/>
<path d="M129,489.1 L160.3,492.1 L175.4,492.1 L190.4,500.9 L207.9,504.6 L217.9,512.2 L226.7,510.9 L231.7,518.4 L220.4,520.9 L215.4,527.2 L195.4,528.4 L190.4,530.9 L172.8,530.9 L167.8,537.2 L145.3,524.7 L150.3,520.9 L122.7,518.4Z" fill="#f5c15a" stroke="#f5c15a" stroke-width="0.4"/>
<path d="M438.1,529.7 L444.4,528.4 L454.4,530.2 L466.9,532.7 L474.4,529.2 L484.5,528.4 L484.5,542.2 L479.5,549.7 L483.2,567.3 L488.2,577.3 L488.2,576.8 L479.5,579.3 L474.4,589.3 L456.9,596.9 L451.9,599.4 L446.9,592.6 L439.4,588.6 L429.4,589.3 L428.1,584.3 L420.6,580.6 L424.3,578.1 L420.6,575.6 L416.8,563 L420.6,550.5 L419.3,543 L420.6,539.7 L438.1,536Z" fill="#f5c15a" stroke="#f5c15a" stroke-width="0.4"/>
<path d="M760.4,414.3 L765.8,412.5 L772.1,408.9 L781.1,410.7 L788.3,413.4 L793.6,409.8 L799,413.4 L827.8,425.9 L827.8,461.9 L804.4,478.9 L791,484.3 L786.5,487 L783.8,483.4 L775.7,485.2 L773.9,479.8 L774.8,472.6 L779.3,470.8 L778.4,461.9 L783.8,458.3 L785.6,452.9 L781.1,447.5 L777.5,445.7 L759.9,448.6 L761.3,434.9 L757.7,432.2 L760.4,425.9 L759.5,416.9Z" fill="#f5c15a" stroke="#f5c15a" stroke-width="0.4"/>
<path d="M793,397 L797,395.2 L798.6,398.2 L801.6,399 L808.4,397.1 L813,396 L813,430 L799,430 L799,420 L801,412 L797,403Z" fill="#f5c15a" stroke="#f5c15a" stroke-width="0.4"/>
<path d="M195.4,332.4 L225.5,337.4 L226.7,331.2 L230.5,333.7 L230.5,338.7 L240.5,339.9 L240,349.9 L255.5,349.9 L255.5,381.3 L253.9,363.2 L253,388 L249.7,393 L245.6,406.3 L247.2,412.9 L244.8,422.9 L239,429.5 L234.8,436.1 L231.5,441.1 L231.5,444.5 L176.6,434.5 L176.6,432.1Z" fill="#3b6edf" stroke="#3b6edf" stroke-width="0.4"/>
<path d="M257,449 L356.7,459.6 L350.4,530.9 L337.9,530.9 L336.7,541 L319.1,542.2 L317.9,549.7 L309.6,548.5 L310.4,537.2 L305.4,536 L304.1,529.7 L286.6,528.4 L265.3,525.9 L264,529.7 L247.7,528.4Z" fill="#3b6edf" stroke="#3b6edf" stroke-width="0.4"/>
<path d="M390.5,436.4 L390.5,426.4 L405.6,425.1 L406.8,417.6 L424.3,416.3 L441.9,416.3 L441.8,420.7 L449.9,421.6 L450.8,424.3 L462.5,425.1 L463.4,428.7 L469.6,430.5 L470.5,435.9 L477.7,436.8 L478.6,441.3 L488.5,442.2 L488.1,462 L373,458.3 L374.2,432Z" fill="#3b6edf" stroke="#3b6edf" stroke-width="0.4"/>
<path d="M406.8,463.3 L461.9,464.1 L455.7,472.1 L461.9,479.6 L463.2,492.1 L471.9,504.6 L476.9,518.4 L474.4,528.4 L466.9,532.2 L454.4,529.7 L444.4,528.4 L438.1,527.2 L438.1,536 L404.3,536 L403.8,512.2 L405.6,472.1Z" fill="#3b6edf" stroke="#3b6edf" stroke-width="0.4"/>
<path d="M620.7,261.6 L629,261 L629,252 L634,244 L660,244 L705,280 L705,345 L672,352.3 L646.7,352.9 L614.4,355.6 L610,340 L610,300 L620,280Z" fill="#3b6edf" stroke="#3b6edf" stroke-width="0.4"/>
<path d="M614.4,355.6 L646.7,352.9 L647.6,356.5 L648.5,381.6 L644,383.4 L632.3,382.5 L631.4,378 L622.5,378 L621.6,380.7 L613.5,380.7 L612.6,373.5 L614.4,367.2Z" fill="#3b6edf" stroke="#3b6edf" stroke-width="0.4"/>
<path d="M647.1,353.2 L675.4,352 L677.2,349.3 L693.4,343.9 L711.4,334.9 L722.1,330.4 L725.7,342.1 L722.1,345.7 L715.9,347.5 L715,361 L709.6,361.9 L706,366.3 L700.6,369 L697,374.4 L691.6,375.3 L688.9,379.8 L679,378.9 L675.4,374.4 L669.2,373.5 L668.3,370.8 L663.8,370.8 L662.9,374.4 L649.4,374.4 L648.5,369Z" fill="#3b6edf" stroke="#3b6edf" stroke-width="0.4"/>
<path d="M723,332.2 L723.9,334.9 L753.6,328.6 L752.7,321.4 L754.5,316 L759.9,313.4 L761.7,306.2 L768.9,304.4 L772.4,300.8 L780,297.2 L754.7,320 L762.1,309.6 L769.6,304.6 L775.8,300.9 L777.1,295.9 L783.3,290.9 L784.5,282.2 L793.2,277.3 L798.2,279.8 L801.9,282.2 L808.2,279.8 L812.1,283.3 L821.1,287.8 L827.4,289.6 L833.6,287.8 L840.8,288.7 L846.2,291.4 L850.7,290.5 L857,286.9 L903.7,233.9 L876.8,180 L840.8,180 L828.3,239.3 L778,251.9 L764.6,277.3 L724.8,302.1Z" fill="#3b6edf" stroke="#3b6edf" stroke-width="0.4"/>
<path d="M659.7,462 L683.9,457.5 L689.3,449.4 L696.5,445.8 L703.7,444.9 L709.1,449.4 L710.9,453.9 L709.1,456.6 L696.5,467.4 L685.7,475.4 L675,484.4 L670.5,488.9 L671.4,493.4 L644.4,495.2 L649.8,486.2 L653.4,480.8 L660.6,477.2 L659.7,471.9 L662.4,467.4Z" fill="#3b6edf" stroke="#3b6edf" stroke-width="0.4"/>
<path d="M709.1,456.6 L712.7,462 L721.7,463.8 L728.9,462.9 L732.4,462 L730.8,461.9 L732.6,459.2 L734.4,465.4 L737.1,470.8 L735.3,476.2 L738,479.8 L738.9,486.1 L730.8,487.9 L729,487.9 L728.1,493.3 L727.8,494.4 L717,498 L713.4,508.7 L704.4,513.2 L699,509.6 L691.9,506.9 L690.1,503.4 L684.7,498 L682.9,492.6 L671.4,493.4 L670.5,488.9 L675,484.4 L685.7,475.4 L696.5,467.4Z" fill="#3b6edf" stroke="#3b6edf" stroke-width="0.4"/>
<path d="M70.1,163.9 L105.2,158.9 L131.5,168.9 L125.3,180.2 L117.7,195.3 L110.2,214 L82.7,209 L82.7,200.3 L70.1,200.3 L67.6,182.7Z" fill="#8cb5f2" stroke="#8cb5f2" stroke-width="0.4"/>
<path d="M37.6,278.6 L48.8,266 L56.4,257.3 L67.6,264.8 L72.6,271.5 L82.7,274 L88.9,269 L115.7,278.6 L110.7,295.6 L118.2,300.6 L115.7,312.4 L105.2,312.4 L99.7,326.7 L75.2,322.4 L61.4,319.1 L63.1,315.6 L50.1,310.6 L49.3,298.6 L37.6,294.1Z" fill="#8cb5f2" stroke="#8cb5f2" stroke-width="0.4"/>
<path d="M187.9,276.1 L197.9,272.3 L200.4,276.1 L205.4,273.5 L215.4,283.6 L220.4,284.8 L233,284.8 L248,282.3 L250.5,277.3 L240.5,338.7 L230.5,338.7 L230.5,333.7 L226.7,331.2 L225.5,337.4 L192.9,331.2 L199.1,318.6 L191.6,311.1 L195.4,301.1 L190.4,288.6Z" fill="#8cb5f2" stroke="#8cb5f2" stroke-width="0.4"/>
<path d="M250.5,277.3 L244.2,313.6 L240,349.9 L255.5,349.9 L254,361.2 L286.6,365 L287.8,356.2 L294.1,355 L295.3,339.9 L317.9,339.9 L322.9,296.1 L307.9,293.6 L299.1,289.8 L296.6,283.6 L254,278.6Z" fill="#8cb5f2" stroke="#8cb5f2" stroke-width="0.4"/>
<path d="M644.9,309.8 L652.1,305.3 L653.9,311.6 L659.3,311.6 L662.9,305.3 L669.2,301.7 L672.8,305.3 L679,315.1 L679.9,327.7 L677.2,334 L671.9,342.1 L673.6,349.3 L671,351.1 L653,352 L655.7,343.9 L653.9,334.9 L654.8,325 L647.6,324.1 L647.6,315.1Z" fill="#f5c15a" stroke="#f5c15a" stroke-width="0.4"/>
<path d="M683.9,411.7 L679.5,416.2 L678.6,421.6 L682.1,426 L689.3,425.1 L692.9,423.4 L689.3,418 L685.7,407.2Z" fill="#969696" stroke="#969696" stroke-width="0.4"/>
<path d="M25.1,362.5 L37.6,362.5 L45.1,361.2 L51.4,367.5 L53.9,373.7 L50.1,381.3 L60.1,401.3 L66.4,421.3 L65.6,432.1 L68.9,435.8 L60.1,436.5 L50.1,435.8 L25.1,435.8Z" fill="#f6c9c9" stroke="#f6c9c9" stroke-width="0.4"/>
<path d="M404.3,665.7 L419.3,665.7 L424.3,664.5 L429.4,667 L451.9,665.7 L451.9,698.3 L404.3,698.3Z" fill="#f6c9c9" stroke="#f6c9c9" stroke-width="0.4"/>
<path d="M697.5,602.1 L718.8,603.1 L720,612.6 L733.8,611.9 L733.8,603.1 L750.1,603.1 L782.7,643.2 L782.7,703.3 L737.6,708.3 L697.5,618.2Z" fill="#ffffff" stroke="#ffffff" stroke-width="0.4"/>
<path d="M117.5,196.3 L125.1,200.1 L131.3,207.6 L132.6,217.6 L150.1,220.1 L160.1,225.2 L162.6,235.2" fill="none" stroke="#5c6c70" stroke-opacity="0.7" stroke-width="0.6"/>
<path d="M222.7,188.8 L227.8,197.6 L232.8,210.1 L230.3,225.2 L235.3,237.7 L239,245.2 L234,250.2 L236.5,259 L230.3,260.2 L220.2,254 L210.2,255.2" fill="none" stroke="#5c6c70" stroke-opacity="0.7" stroke-width="0.6"/>
<path d="M171.4,238.9 L180.2,236.4 L182.7,225.2 L200.2,223.9" fill="none" stroke="#5c6c70" stroke-opacity="0.7" stroke-width="0.6"/>
<path d="M301.7,203.9 L297.9,215.1 L290.4,223.9 L295.4,230.2 L291.6,236.4 L292.9,245.2" fill="none" stroke="#5c6c70" stroke-opacity="0.7" stroke-width="0.6"/>
<path d="M252.8,275.3 L256.6,267.7 L260.3,255.2 L266.6,245.2 L292.9,245.7 L325.5,247.7 L335.5,252.7 L354,255.2" fill="none" stroke="#5c6c70" stroke-opacity="0.7" stroke-width="0.6"/>
<path d="M172.6,245.2 L182.7,250.2 L187.7,260.2 L197.7,262.7 L195.2,275.3 L187.7,275.3" fill="none" stroke="#5c6c70" stroke-opacity="0.7" stroke-width="0.6"/>
<path d="M167.6,260.2 L147.6,257.7 L143.8,260.2 L140.1,272.7 L117.5,274 L115,280.3 L112.5,295.3 L117.5,300.3 L116.3,310.3" fill="none" stroke="#5c6c70" stroke-opacity="0.7" stroke-width="0.6"/>
<path d="M324.2,289 L322.9,320.3 L354,321.6" fill="none" stroke="#5c6c70" stroke-opacity="0.7" stroke-width="0.6"/>
<path d="M422.9,212.5 L422.9,223.8 L419.1,225.1 L420.4,235.1 L436.7,236.3 L437.9,265.2 L442.9,266.4 L442.9,272.7" fill="none" stroke="#5c6c70" stroke-opacity="0.7" stroke-width="0.6"/>
<path d="M384.1,273.9 L386.6,280.2 L394.1,281.4 L396.6,315.3 L415.4,321.5 L420.4,325.3 L419.1,335.3" fill="none" stroke="#5c6c70" stroke-opacity="0.7" stroke-width="0.6"/>
<path d="M420.4,325.3 L429.2,312.7 L432.9,304 L449.2,304 L464.2,302.7" fill="none" stroke="#5c6c70" stroke-opacity="0.7" stroke-width="0.6"/>
<path d="M493,215.1 L495.5,222.6 L493,257.6 L490.5,265.2 L484.3,267.7 L476.7,277.7 L470.5,277.7 L469.2,290.2" fill="none" stroke="#5c6c70" stroke-opacity="0.7" stroke-width="0.6"/>
<path d="M490.5,265.2 L504.3,270.2 L514.3,270.2 L516.8,280.2 L520.6,281.4" fill="none" stroke="#5c6c70" stroke-opacity="0.7" stroke-width="0.6"/>
<path d="M466.7,304 L479.3,305.2 L479.3,312.7 L489.3,314 L490.5,325.3" fill="none" stroke="#5c6c70" stroke-opacity="0.7" stroke-width="0.6"/>
<path d="M369,335.3 L370.3,371.1" fill="none" stroke="#5c6c70" stroke-opacity="0.7" stroke-width="0.6"/>
<path d="M436.7,340.3 L436.7,362.8 L424.1,364.1 L422.9,371.1" fill="none" stroke="#5c6c70" stroke-opacity="0.7" stroke-width="0.6"/>
<path d="M518.1,312.7 L518.1,337.8 L531.9,337.8 L533.1,350.3 L529.4,352.8 L530.6,371.1" fill="none" stroke="#5c6c70" stroke-opacity="0.7" stroke-width="0.6"/>
<path d="M533.1,342.8 L556.9,342.8" fill="none" stroke="#5c6c70" stroke-opacity="0.7" stroke-width="0.6"/>
<path d="M561.9,267.7 L561.9,285.2 L558.2,287.7 L558.2,307.7 L568.2,312.7" fill="none" stroke="#5c6c70" stroke-opacity="0.7" stroke-width="0.6"/>
<path d="M489.3,326.5 L490.5,340.3 L484.3,350.3 L484.3,352.8" fill="none" stroke="#5c6c70" stroke-opacity="0.7" stroke-width="0.6"/>
<path d="M303.9,371.3 L305.2,390.1 L310.2,400.1 L305.2,407.6 L307.7,415.2 L293.9,422.7 L290.1,437.7 L296.4,450.2" fill="none" stroke="#5c6c70" stroke-opacity="0.7" stroke-width="0.6"/>
<path d="M307.7,415.2 L322.7,412.6 L342.7,413.9 L342.7,425.2 L356.5,426.4 L357.8,402.6 L365.3,400.1 L366.5,387.6 L376.5,387.6" fill="none" stroke="#5c6c70" stroke-opacity="0.7" stroke-width="0.6"/>
<path d="M424.1,417.7 L424.1,435.2 L434.2,436.4 L434.2,457.7" fill="none" stroke="#5c6c70" stroke-opacity="0.7" stroke-width="0.6"/>
<path d="M437.9,363.8 L437.9,372.6 L447.9,373.8 L451.7,385.1 L452.9,398.9" fill="none" stroke="#5c6c70" stroke-opacity="0.7" stroke-width="0.6"/>
<path d="M367.8,340 L369,370.1" fill="none" stroke="#5c6c70" stroke-opacity="0.7" stroke-width="0.6"/>
<path d="M100.2,410.1 L103.9,420.1 L106.4,440.1 L110.2,455.2 L107.7,467.7 L105.2,480.2 L102.7,485.2" fill="none" stroke="#5c6c70" stroke-opacity="0.7" stroke-width="0.6"/>
<path d="M107.7,467.7 L125.2,473.9 L124,487.7" fill="none" stroke="#5c6c70" stroke-opacity="0.7" stroke-width="0.6"/>
<path d="M354,506.3 L402.8,508.8" fill="none" stroke="#5c6c70" stroke-opacity="0.7" stroke-width="0.6"/>
<path d="M351.5,543.9 L402.8,546.4" fill="none" stroke="#5c6c70" stroke-opacity="0.7" stroke-width="0.6"/>
<path d="M391.6,546.4 L390.3,563.9 L380.3,565.2 L379,584 L360.3,584 L367.8,592.7 L369,600.3" fill="none" stroke="#5c6c70" stroke-opacity="0.7" stroke-width="0.6"/>
<path d="M316.4,547.7 L313.9,582.7 L316.4,597.8" fill="none" stroke="#5c6c70" stroke-opacity="0.7" stroke-width="0.6"/>
</g>
<path d="M568.7,225.9 L558,230.4 L550.8,234.4 L543.6,239.8 L540,244.8 L531.9,254.7 L540,252.9 L545.4,251.1 L548.1,253.8 L550.8,258.3 L556.2,259.2 L563.4,254.7 L572.3,252 L578.6,247.5 L582.2,242.1 L587.6,238.5 L590.3,239.4 L584.9,243.9 L585.8,251.1 L591.2,253.8 L599.3,252.9 L603.8,256.5 L607.4,258.3 L611.9,254.7 L617.2,252 L624.4,251.1 L629.8,250.2 L635.2,251.1 L639.7,249.3 L642.4,252.9 L639.7,243.9 L635.2,238.5 L632.5,231.3 L630.7,224.1 L624.4,225.9 L615.4,224.1 L611.9,218.7 L608.3,213.4 L601.1,208.9 L592.1,209.8 L582.2,207.1 L577.7,211.6 L573.2,216.9 L566,220.5 L566.9,225.9Z" fill="#7b9fcc"/>
<path d="M568.7,225.9 L558,230.4 L550.8,234.4 L543.6,239.8 L540,244.8 L531.9,254.7 L540,252.9 L545.4,251.1 L548.1,253.8 L550.8,258.3 L556.2,259.2 L563.4,254.7 L572.3,252 L578.6,247.5 L582.2,242.1 L587.6,238.5 L590.3,239.4 L584.9,243.9 L585.8,251.1 L591.2,253.8 L599.3,252.9 L603.8,256.5 L607.4,258.3 L611.9,254.7 L617.2,252 L624.4,251.1 L629.8,250.2 L635.2,251.1 L639.7,249.3 L642.4,252.9" fill="none" stroke="#000" stroke-width="1.4" stroke-linejoin="round"/>
<path d="M637.1,266.8 L635.6,266.1 L629.6,264.6 L623.7,265.3 L619.2,266.1 L616.2,268.3 L611,269.8 L608.8,272.1 L605,270.6 L604.3,275.8 L602.1,278.8 L599.1,283.2 L596.1,287.7 L593.9,292.2 L592.1,297.4 L592.4,298.9 L594.6,296.7 L597.6,291.4 L601.3,286.2 L605,282.5 L606.5,280.3 L605,284.7 L602.1,290.7 L599.8,298.1 L598.3,305.6 L597.6,314.5 L596.8,323.5 L597.6,332.4 L599.1,341.4 L600.6,347.9 L603,354 L607,358.7 L613.2,359.5 L618,354 L622.2,347.9 L622.9,342.9 L622.9,335.4 L621.4,328 L619.2,321.3 L616.2,314.5 L614.7,307.1 L617,302.6 L617.7,296.7 L619.9,291.4 L623.7,289.2 L627.4,287.7 L628.9,283.2 L631.1,279.5 L634.1,276.5 L632.6,272.8 L634.1,269.1 L637.1,266.8Z" fill="#7b9fcc"/>
<path d="M637.1,266.8 L635.6,266.1 L629.6,264.6 L623.7,265.3 L619.2,266.1 L616.2,268.3 L611,269.8 L608.8,272.1 L605,270.6 L604.3,275.8 L602.1,278.8 L599.1,283.2 L596.1,287.7 L593.9,292.2 L592.1,297.4 L592.4,298.9 L594.6,296.7 L597.6,291.4 L601.3,286.2 L605,282.5 L606.5,280.3 L605,284.7 L602.1,290.7 L599.8,298.1 L598.3,305.6 L597.6,314.5 L596.8,323.5 L597.6,332.4 L599.1,341.4 L600.6,347.9 L603,354 L607,358.7 L613.2,359.5 L618,354 L622.2,347.9 L622.9,342.9 L622.9,335.4 L621.4,328 L619.2,321.3 L616.2,314.5 L614.7,307.1 L617,302.6 L617.7,296.7 L619.9,291.4 L623.7,289.2 L627.4,287.7 L628.9,283.2 L631.1,279.5 L634.1,276.5 L632.6,272.8 L634.1,269.1 L637.1,266.8" fill="none" stroke="#000" stroke-width="1.4" stroke-linejoin="round"/>
<path d="M656.2,263.6 L651.3,264.6 L644.5,264.6 L637.8,265 L637.1,266.8 L641.6,267.6 L647.5,271.3 L653.5,274.3 L658,277.3 L660.2,282.5 L660.9,289.2 L659.5,296.7 L658,301.1 L655,304.1 L655.7,308.6 L657.2,310.1 L660.9,307.1 L665.4,302.6 L669.2,301.1 L672.9,305.6 L675.9,313.1 L677.4,320.5 L678.1,326.5 L677.1,330.2 L678.8,328.7 L683.3,323.5 L687.8,314.5 L689.3,305.6 L687.8,298.1 L689.3,290.7 L692.3,286.2 L689.3,281.7 L685.6,275.8 L687,273.5 L693.8,278 L698.2,283.2 L704.2,284.7 L708.7,281.7 L713.1,277.3 L710.2,272.8 L707.2,266.8 L702.7,263.9 L701.2,257.9 L695.2,256.4 L687.8,257.9 L681.8,257.1 L674.4,258.6 L666.9,259.4 L659.5,258.6 L653.5,260.1 L649,256.4 L646,254.2 L644.5,252.7 L647.5,260.1 L653.5,262.4Z" fill="#7b9fcc"/>
<path d="M656.2,263.6 L651.3,264.6 L644.5,264.6 L637.8,265 L637.1,266.8 L641.6,267.6 L647.5,271.3 L653.5,274.3 L658,277.3 L660.2,282.5 L660.9,289.2 L659.5,296.7 L658,301.1 L655,304.1 L655.7,308.6 L657.2,310.1 L660.9,307.1 L665.4,302.6 L669.2,301.1 L672.9,305.6 L675.9,313.1 L677.4,320.5 L678.1,326.5 L677.1,330.2" fill="none" stroke="#000" stroke-width="1.4" stroke-linejoin="round"/>
<path d="M671.9,343 L673.6,349.3 L677.2,353.2 L684.4,351.1 L693.4,347.5 L700.6,342.1 L711.4,337.6 L722.1,332.2 L731.1,319.6 L733.8,316.9 L732.9,315.1 L729,314.8 L724.1,317.3 L719.2,318.2 L713.3,320.7 L709.3,324.7 L704.4,326.1 L699.4,327.1 L693.5,329.6 L689.6,333.5 L684.7,338.5 L680.7,341.4 L675.8,343.4 L672.8,341.4Z" fill="#7b9fcc"/>
<path d="M671.9,343 L673.6,349.3 L677.2,353.2 L684.4,351.1 L693.4,347.5 L700.6,342.1 L711.4,337.6 L722.1,332.2 L731.1,319.6 L733.8,316.9" fill="none" stroke="#000" stroke-width="1.4" stroke-linejoin="round"/>
<path d="M726.1,305.9 L731,312.1 L732.9,305.9 L738.5,304 L746,302.8 L754.7,300.9 L760.9,298.4 L765.9,294.7 L769.6,290.9 L769,286 L767.1,283.5 L766.5,279.8 L764.6,280.4 L759.7,282.2 L752.2,284.7 L744.7,287.8 L737.3,290.9 L729.8,294.7 L723.6,299.7 L719.9,304.6 L718.6,309.6 L722.3,311.5Z" fill="#7b9fcc"/>
<path d="M726.1,305.9 L731,312.1 L732.9,305.9 L738.5,304 L746,302.8 L754.7,300.9 L760.9,298.4 L765.9,294.7 L769.6,290.9 L769,286 L767.1,283.5 L766.5,279.8" fill="none" stroke="#000" stroke-width="1.4" stroke-linejoin="round"/>
<path d="M669.9,262.1 L674.4,260.6 L680.3,262.4 L681.8,265.3 L674.4,266.5 L670.6,264.6Z" fill="#fff"/>
<path d="M680.5,331.5 L682.3,336 L679.5,340.5 L675.8,343.4 L672.8,341.4 L671.5,338 L674,335 L677,332.5Z" fill="#7b9fcc"/>
<path d="M677.1,330.2 L674.4,335.4 L671.4,339.2 L669.9,344.4 L669.2,347.9 L680.8,328.6 L678.7,332.2 L676.3,338.5 L673.6,343" fill="none" stroke="#7b9fcc" stroke-width="2.2"/>
<path d="M788.5,372 L789,378 L788.5,384 L790.5,391 L792.5,398" fill="none" stroke="#000" stroke-width="3" stroke-linejoin="round"/>
<path d="M786,380 L787.5,386 L786.5,392 L789.5,397 L788.5,402" fill="none" stroke="#000" stroke-width="1.6" stroke-linejoin="round"/>
<path d="M793.5,398 L796.3,399.8 L798.6,405.1 L801.6,408.9 L803.1,411.9 L801.6,416.5 L800.8,421 L801.2,425.6 L801.3,428.6 L800.1,425.6 L797.8,421 L794.8,414.2 L792.5,407.4 L791,401.3Z" fill="#7b9fcc" stroke="#000" stroke-width="1.8" stroke-linejoin="round"/>
<path d="M803.1,434.9 L806.4,443.2 L809.8,449 L813.1,451.5 L816.4,455.2 L816,459.8 L813.1,463.1 L809.8,467.2 L808.9,463.1 L810.6,458.1 L809.8,453.1 L806.4,449 L803.1,449.4 L799.8,451.5 L795.7,452.3 L794,449 L795.7,446.5 L792.3,444.4 L797.3,444.8 L801.5,443.2 L803.9,439.9Z" fill="#7b9fcc" stroke="#000" stroke-width="1.6" stroke-linejoin="round"/>
<path d="M861.9,309.6 L869,308.6 L872.5,308.3 L873.2,306.4 L871.2,304.3 L868.2,303 L865.6,302.9" fill="none" stroke="#000" stroke-width="2" stroke-linejoin="round"/>
<path d="M751.4,648.2 L758.9,645.7 L761.4,652 L757.6,655.7 L752.6,653.2Z" fill="#7b9fcc"/>
<path d="M855.2,275.2 L857,268 L860.6,264.4 L867.8,259 L875,253.6 L878.6,248.3 L885.7,242.9 L892.9,237.5 L898.3,233.9" fill="none" stroke="#000" stroke-width="3.2" stroke-linejoin="round" stroke-dasharray="3 1.2"/>
<path d="M75.2,167.2 L73.9,180.2 L75.7,195.3 L73.1,205.3 L71.9,210.3 L70.1,217.8 L67.1,227.8 L61.4,242.8 L58.9,251.1 L51.4,266 L43.8,278.6 L41.3,294.1 L37.6,308.6 L31.3,324.9 L32.1,336.2 L33.1,348.7 L35.1,361.2 L38.8,373.7 L42.6,380 L45.1,387.5 L46.3,401.3 L45.6,413.8 L48.8,423.8 L52.6,432.1 L55.1,442 L58.9,450.8 L57.6,462.1 L66.4,465.8 L75.2,469.6 L82.7,478.3 L90.2,485.9 L96.4,490.9 L100.2,499.6 L104,509.7 L105.2,516.7 L150.3,520.9 L145.3,524.7 L205.4,558.5 L241.7,566 L256.5,568.5 L257.8,558.5 L286.6,559.3 L286.6,559.3 L291.6,568.1 L301.6,580.6 L311.6,589.3 L315.4,600.6 L320.4,610.6 L329.2,618.2 L340.4,625.7 L347.9,618.2 L352.9,611.9 L359.2,609.4 L366.7,610.6 L374.2,611.9 L381.8,620.7 L389.3,633.2 L395.5,645.7 L401.8,655.7 L408.1,665.7 L411.8,675.8 L415.6,683.3 L426.8,687 L436.9,690.8 L448.1,694.6 L449.6,689 L449.1,682.6 L448.1,669.6 L449.1,660.4 L453.7,651.1 L461.1,643.7 L470.4,639.1 L477.8,634.4 L487,628.9 L496.3,621.5 L505.6,616.9 L507.8,616.4 L518.4,615.5 L527.3,615.5 L536.2,617.3 L543.3,614.6 L548.6,612.8 L550.4,617.3 L555.7,618.2 L559.2,622.6 L564.6,625.3 L569.9,624.4 L573.4,622.6 L578.8,623.5 L582.3,619.9 L578.8,617.3 L584.1,616.4 L589.4,619.1 L594.7,623.5 L598.3,624.4 L600.1,621.7 L594.7,618.2 L591.2,613.7 L593.9,609.3 L589.4,606.6 L593,603.1 L596.5,601.3 L601.8,597.8 L610.7,596.9 L614.3,589.8 L616.4,596.3 L618.7,589.8 L620.5,596 L624.9,596 L632,592.4 L640.9,590.7 L649.8,592.4 L656.9,595.1 L662.2,599.5 L667.5,604 L670.8,605.6 L678.3,601.9 L685.9,596.9 L694.6,596.9 L703.4,604.4 L705,603.1 L710,606.9 L715.5,615.6 L718,624.4 L718.8,634.4 L721.3,641.9 L725.1,648.2 L731.3,655.7 L736.3,664.5 L741.3,672 L747.6,677 L753.9,682 L756.4,687.8 L761.4,688.3 L768.9,684.5 L772.6,675.8 L773.1,663.2 L771.4,652 L765.1,639.4 L757.6,625.7 L750.1,613.1 L742.6,599.4 L736.3,585.6 L732.1,568.1 L733.3,555.5 L737.6,543 L737.6,550.3 L743.8,540.3 L752.6,527.8 L763.1,520.1 L765.8,513.9 L770.3,506.8 L775.7,501.4 L782,499.6 L782.9,493.3 L786.5,487 L791,484.3 L795.4,481.6 L799,479.8 L804.4,478 L808,471.7 L811.6,467.2 L817,463.6 L817.9,457.4 L815.2,451.1 L809.8,442.1 L804.4,433.1 L801.2,428.6 L801.5,429.9 L800.5,428.3 L801.6,426 L802,425.6 L803.9,419.5 L805.4,414.2 L807.7,408.1 L810,401.3 L810.7,394.4 L809.3,389.4 L806.4,386.5 L803.4,383.5 L799.4,379.6 L797,374.7 L794.5,369.7 L797.5,374.7 L803.4,379.1 L807.3,380.6 L809.3,385 L810.3,383.5 L814.2,374.7 L817.2,369.7 L819.2,364.8 L819.7,355.9 L818.2,350 L813.9,350.2 L814.8,345.1 L816.8,340.2 L827.6,331.8 L836.5,327.8 L846.4,323.4 L850.8,321.4 L855.2,317.5 L859.2,318.5 L863.1,312.5 L862.1,309.6 L860.2,306.1 L858.2,303.2 L855.2,301.2 L853.3,298.7 L854.7,295.8 L856.7,292.8 L855.2,290.8 L853.7,285.9 L853.3,280 L852.5,286 L853.4,282.4 L855.2,275.2 L857,268 L860.6,264.4 L867.8,259 L875,253.6 L878.6,248.3 L885.7,242.9 L892.9,237.5 L898.3,233.9 L898.3,233.9 L894.7,230.3 L888.4,226.7 L885.7,222.2 L882.1,218.6 L878.6,210.5 L875,199.8 L872.3,190.8 L866,188.1 L860.6,189 L855.2,192.6 L851.6,189.9 L848,196.2 L844.4,206.9 L841.7,215.9 L842.6,231.2 L839,235.7 L836.3,239.3 L831.9,242.9 L831,248.8 L804.9,255.4 L784.5,259.2" fill="none" stroke="#000" stroke-width="2" stroke-linejoin="round"/>
<path d="M568.1,228.3 L558.1,229.1 L545.6,226.6 L533.1,229.1 L525.5,225.3 L518,219.8 L508,220.3 L504.5,220.3 L494.5,217.8 L489.5,214 L488.2,205.3 L484.5,205.3 L484.5,212 L456.9,212 L404.3,210.3 L360.5,207.8 L304.1,200.3 L254,192.7 L182.4,180.2 L105.2,159.7 L105.2,159.7 L104,166.4 L100.2,170.7 L95.2,172.7 L85.2,170.2 L75.2,167.2" fill="none" stroke="#000" stroke-width="2" stroke-linejoin="round"/>
<path d="M182.4,180.2 L170.3,240.3 L175.4,251 L165.3,263.5 L157.8,273.5 L160.3,281.1 L156.6,296.1 L150.3,321.1" fill="none" stroke="#000" stroke-width="2" stroke-linejoin="round" stroke-linecap="round"/>
<path d="M194.9,182.2 L191.6,205.3 L194.1,215.3 L200.4,222.8 L207.9,235.3 L205.4,251.1 L205.4,256 L212.9,258.5 L215.4,271 L220.4,283.6 L233,284.8 L248,282.3 L250.5,276.1 L240.5,338.7 L239.2,360" fill="none" stroke="#000" stroke-width="2" stroke-linejoin="round" stroke-linecap="round"/>
<path d="M71.9,210.3 L85.2,217.8 L86.4,225.3 L100.2,230.3 L120.2,234.1 L140.3,234.1 L170.3,240.3" fill="none" stroke="#000" stroke-width="2" stroke-linejoin="round" stroke-linecap="round"/>
<path d="M41.3,294.1 L105.2,312.4 L195.4,332.4 L240.5,339.9" fill="none" stroke="#000" stroke-width="2" stroke-linejoin="round" stroke-linecap="round"/>
<path d="M105.2,312.4 L90.2,372.5 L130.3,432.1 L157.8,473.3" fill="none" stroke="#000" stroke-width="2" stroke-linejoin="round" stroke-linecap="round"/>
<path d="M195.4,332.4 L176.6,432.1 L175.4,435 L172.8,444.5 L167.8,453.3 L160.3,457.1 L159.1,473.3 L157.8,482.1 L161.6,490.9 L154.1,497.1 L150.3,507.2 L151.6,517.2 L150.3,520.9" fill="none" stroke="#000" stroke-width="2" stroke-linejoin="round" stroke-linecap="round"/>
<path d="M176.6,434.5 L254,448.3 L257.8,448.3 L356.7,459.6 L373,458.6 L495.7,463.3" fill="none" stroke="#000" stroke-width="2" stroke-linejoin="round" stroke-linecap="round"/>
<path d="M239.2,360 L267.8,365.7 L347.2,373.7 L378,376.3 L377.2,397.5 L479.5,401.3 L482.2,400.6" fill="none" stroke="#000" stroke-width="2" stroke-linejoin="round" stroke-linecap="round"/>
<path d="M267.8,365.7 L259,432.1 L257.8,448.3 L241.7,566" fill="none" stroke="#000" stroke-width="2" stroke-linejoin="round" stroke-linecap="round"/>
<path d="M377.2,397.5 L374.2,432.1 L373,458.6" fill="none" stroke="#000" stroke-width="2" stroke-linejoin="round" stroke-linecap="round"/>
<path d="M356.7,459.6 L356.2,469.6 L347.9,563.5 L286.6,559.3" fill="none" stroke="#000" stroke-width="2" stroke-linejoin="round" stroke-linecap="round"/>
<path d="M356.2,469.6 L405.6,472.1 L404.3,512.2 L414.3,517.2 L424.3,522.2 L436.9,525.9 L444.4,528.4 L454.4,529.7 L466.9,532.2 L474.4,528.4 L487,527.2 L495.7,530.9 L504.5,534.7 L506.9,534.9 L506.9,545.7 L507.8,567.2 L512.3,576.2 L515.9,583.4 L516.8,590.6 L513.2,601.4 L512.3,612.1 L510.5,620.1" fill="none" stroke="#000" stroke-width="2" stroke-linejoin="round" stroke-linecap="round"/>
<path d="M250.5,276.1 L352.9,289.8" fill="none" stroke="#000" stroke-width="2" stroke-linejoin="round" stroke-linecap="round"/>
<path d="M360.5,207.8 L357.2,251.1 L355.5,270.5 L352.9,289.8 L350.4,332.4 L347.2,373.7" fill="none" stroke="#000" stroke-width="2" stroke-linejoin="round" stroke-linecap="round"/>
<path d="M355.5,270.5 L463.2,275.3" fill="none" stroke="#000" stroke-width="2" stroke-linejoin="round" stroke-linecap="round"/>
<path d="M350.4,332.4 L436.9,337.4 L444.4,341.2 L454.4,339.9 L461.9,344.9" fill="none" stroke="#000" stroke-width="2" stroke-linejoin="round" stroke-linecap="round"/>
<path d="M456.9,212 L456.4,220.3 L459.4,232.8 L461.4,251.1 L463.2,263.5 L463.2,275.3 L460.7,282.3 L465.7,288.6 L466.4,326.2 L465.1,332.1 L462.5,342.9 L466.9,350.1 L471.4,360.8 L475,373.4 L475.9,382.4 L478.6,388.7 L483.1,396.8 L489.4,403.9 L487.6,410.1 L486.7,407.2 L492.1,410.8 L494.8,418 L494.8,462 L497.5,473.6 L498.4,489.8 L499.3,530.1 L506.9,534.9" fill="none" stroke="#000" stroke-width="2" stroke-linejoin="round" stroke-linecap="round"/>
<path d="M466.6,326.3 L543.3,324.9" fill="none" stroke="#000" stroke-width="2" stroke-linejoin="round" stroke-linecap="round"/>
<path d="M478.6,388.7 L540.6,386 L544.2,389.6" fill="none" stroke="#000" stroke-width="2" stroke-linejoin="round" stroke-linecap="round"/>
<path d="M533,259 L527,262.5 L527,272.5 L520.6,280 L520.8,287.2 L519,294.4 L524.4,301.6 L529.8,306.9 L535.2,312.3 L540.6,317.7 L543.3,324.9 L546,333.9 L551.4,341.1 L556.8,345.6 L562.1,351.9 L563,359 L558.6,364.4 L555,366.2 L549.6,369.8 L551.4,377 L547.8,384.2 L544.2,389.6 L543.3,393.2 L546,398.6 L549.6,405.7 L552.3,410.1 L549.6,407.2 L556.8,412.6 L562.1,419.8 L563.9,426.9 L565.7,434.1 L571.1,439.5 L578.3,444.9 L581.9,452.1 L583.7,457.5 L585.5,462.9 L583.7,468.3 L578.3,471.9 L576.5,479 L569.3,480.8 L569.3,475.4 L572.9,473.6 L576.5,482.6 L572.9,493.4 L569.3,502.4 L565.7,511.4 L568,506.2 L564.4,511.6 L559,525.9 L556.3,544.8 L557.2,551.1 L559,560.1 L555.4,567.2 L552.8,574.4 L551.9,581.6 L551,587 L584.2,587 L585.1,597.8 L587.8,605" fill="none" stroke="#000" stroke-width="2" stroke-linejoin="round" stroke-linecap="round"/>
<path d="M555.9,344.3 L599,342" fill="none" stroke="#000" stroke-width="2" stroke-linejoin="round" stroke-linecap="round"/>
<path d="M607.1,359.9 L608,410.1 L607.6,410.8 L609.4,418 L605.8,425.1 L603.1,432.3 L603.1,439.5" fill="none" stroke="#000" stroke-width="2" stroke-linejoin="round" stroke-linecap="round"/>
<path d="M585.5,462 L590.9,453.9 L596.3,446.7 L602.6,440.4 L606.7,435.9 L613.9,437.7 L621.1,434.1 L628.3,432.3 L637.2,430.5 L640.8,423.4 L644.4,418 L649.8,414.4 L653.4,407.2 L660.6,409.9 L667.8,413.5 L676.8,415.3 L683.9,411.7 L685.7,407.2 L692.5,420.1 L694.3,415.7 L695.2,408.6 L699.7,405 L702.4,396 L707.8,390.6 L711.4,379.8 L715,369" fill="none" stroke="#000" stroke-width="2" stroke-linejoin="round" stroke-linecap="round"/>
<path d="M614.4,355.6 L646.7,352.9 L675.4,352" fill="none" stroke="#000" stroke-width="2" stroke-linejoin="round" stroke-linecap="round"/>
<path d="M646.7,352.9 L653,408.6 L653.9,420.1 L653.4,407.2" fill="none" stroke="#000" stroke-width="2" stroke-linejoin="round" stroke-linecap="round"/>
<path d="M712.3,337.6 L719.5,385.2 L780,374.4 L793.5,371.2" fill="none" stroke="#000" stroke-width="2" stroke-linejoin="round" stroke-linecap="round"/>
<path d="M723,332.2 L723.9,334.9 L780,325.9 L793.2,324.1 L798.6,332.2 L802.2,334.9 L800.4,338.5 L798.6,345.7 L800.4,351.1 L806.7,358.3 L803.1,361 L798.6,365.4 L797.7,370.8" fill="none" stroke="#000" stroke-width="2" stroke-linejoin="round" stroke-linecap="round"/>
<path d="M802.2,334.9 L814.8,338.5" fill="none" stroke="#000" stroke-width="2" stroke-linejoin="round" stroke-linecap="round"/>
<path d="M497.5,473.6 L554.1,471.9 L580.1,469.2" fill="none" stroke="#000" stroke-width="2" stroke-linejoin="round" stroke-linecap="round"/>
<path d="M578,471.9 L581.6,469.2 L604.9,465.6 L631.9,462 L658.8,460.2 L685.7,457.5 L710.9,453.9 L740,450.3 L753.2,449.3 L777.5,445.7 L801.7,437.1" fill="none" stroke="#000" stroke-width="2" stroke-linejoin="round" stroke-linecap="round"/>
<path d="M569.8,500.8 L606.1,499.9 L649.8,495.2 L671.4,493.4 L689.3,491.6 L703.7,486.2 L716.3,483.5 L728.9,482.6 L732.4,488 L740,486.2 L755.9,487.9 L763.1,490.6 L773.9,500.5" fill="none" stroke="#000" stroke-width="2" stroke-linejoin="round" stroke-linecap="round"/>
<path d="M709.1,456.6 L696.5,467.4 L685.7,475.4 L675,484.4 L670.5,488.9 L671.4,493.4" fill="none" stroke="#000" stroke-width="2" stroke-linejoin="round" stroke-linecap="round"/>
<path d="M685.7,407.2 L689.3,418 L692.9,423.4 L698.3,432.3 L703.7,437.7 L694.7,446.7 L685.7,453.9 L683.9,457.5" fill="none" stroke="#000" stroke-width="2" stroke-linejoin="round" stroke-linecap="round"/>
<path d="M703.7,437.7 L712.7,435.9 L718.1,430.5 L721.7,423.4 L728.9,418 L732.4,412.6 L735.1,407.2 L740,405.4 L750.9,401.4 L752.7,390.6 L756.3,387 L754.5,380.7 L749.1,381.6 L743.7,385.2 L738.3,392.4 L735.6,387 L734.7,382.5" fill="none" stroke="#000" stroke-width="2" stroke-linejoin="round" stroke-linecap="round"/>
<path d="M756.3,387 L761.7,383.4 L767.1,387 L772.4,390.6 L775.1,397.8 L774.2,405 L780,408.6" fill="none" stroke="#000" stroke-width="2" stroke-linejoin="round" stroke-linecap="round"/>
<path d="M606.1,499.9 L609.3,597.8" fill="none" stroke="#000" stroke-width="2" stroke-linejoin="round" stroke-linecap="round"/>
<path d="M651.4,496.2 L667.6,551.9 L666.7,579.7" fill="none" stroke="#000" stroke-width="2" stroke-linejoin="round" stroke-linecap="round"/>
<path d="M688.3,492.6 L691.9,499.8 L699,508.7 L706.2,515.9 L713.4,523.1 L720.6,530.3 L727.8,535.7 L735,541.1 L736.8,544.7" fill="none" stroke="#000" stroke-width="2" stroke-linejoin="round" stroke-linecap="round"/>
<path d="M609.5,596.9 L608.2,584.3 L665.8,579.3 L666.7,579.7 L704.4,582.4 L727.8,580.6 L735,577.9" fill="none" stroke="#000" stroke-width="2" stroke-linejoin="round" stroke-linecap="round"/>
<path d="M506.9,545.7 L556.3,544.8" fill="none" stroke="#000" stroke-width="2" stroke-linejoin="round" stroke-linecap="round"/>
<path d="M804.9,255.4 L806.7,264.4 L809.4,275.2 L813.9,286 L816.6,295 L817.5,300.4 L816.6,300.8 L818.4,316.9 L820.2,328.6 L817.5,336.7 L814.8,338.5" fill="none" stroke="#000" stroke-width="2" stroke-linejoin="round" stroke-linecap="round"/>
<path d="M831.9,242.9 L833.6,251.9 L831,260.8 L828.3,269.8 L827.4,280.6 L828.3,291.4 L827.9,297.7" fill="none" stroke="#000" stroke-width="2" stroke-linejoin="round" stroke-linecap="round"/>
<path d="M836.3,239.3 L837.2,242.9 L844.4,264.4 L852.5,286" fill="none" stroke="#000" stroke-width="2" stroke-linejoin="round" stroke-linecap="round"/>
<path d="M817.5,300.4 L827.9,297.7 L846.2,294.1 L851.6,289.6 L853.4,286.9" fill="none" stroke="#000" stroke-width="2" stroke-linejoin="round" stroke-linecap="round"/>
<path d="M818.4,316.9 L844.4,309.8 L849.8,308.9" fill="none" stroke="#000" stroke-width="2" stroke-linejoin="round" stroke-linecap="round"/>
<path d="M844.4,309.8 L847.1,324.1" fill="none" stroke="#000" stroke-width="2" stroke-linejoin="round" stroke-linecap="round"/>
<path d="M793.5,371.2 L795.5,369.5 L797,371 L794.3,371.5 L799.4,396.4 L808.3,395.4" fill="none" stroke="#000" stroke-width="2" stroke-linejoin="round" stroke-linecap="round"/>
<path d="M548.1,253.2 L556.2,261.9 L561.6,267.2 L575.9,269 L584.9,271.7 L590.3,274.4 L593.9,281.6 L595.7,287.9 L597.5,290.6 L600.2,285.2 L602,279.8" fill="none" stroke="#000" stroke-width="2" stroke-linejoin="round" stroke-linecap="round"/>
<path d="M568.7,225.9 L579.5,222.3 L611.9,236.7 L633.4,245.7 L637.9,251.1 L642.4,252.9 L647.8,260.1 L655,262.8" fill="none" stroke="#000" stroke-width="1.2" stroke-linejoin="round"/>
<path d="M659.5,268.3 L671.4,275.8 L677.4,292.2 L681.1,307.1 L680.3,319 L678.1,329.5 L674.4,335.4 L671.4,339.2 L669.9,344.4 L669.2,347.9" fill="none" stroke="#000" stroke-width="1.2" stroke-linejoin="round"/>
<path d="M680.8,328.6 L678.7,332.2 L676.3,338.5 L675.4,343.9 L677.2,350.2 L679,351.1 L695.2,338.5 L715,327.7 L732.9,316.9 L729.8,320 L731,315.8 L729.2,310.8 L726.1,305.9 L731,301.5 L739.8,299 L749.7,297.2 L759.7,294.7 L763.4,289.7 L764.6,284.7 L769.6,276 L774.6,267.3 L779.6,262.3 L784.5,259.2" fill="none" stroke="#000" stroke-width="1.2" stroke-linejoin="round"/>
<path d="M820,177.7 L830,177 L838,178.5" fill="none" stroke="#000" stroke-width="2" stroke-linejoin="round" stroke-linecap="round"/>
<path d="M40.1,378.8 L46.3,383.8 L60.1,385.5" fill="none" stroke="#000" stroke-width="2" stroke-linejoin="round" stroke-linecap="round"/>
<path d="M46.3,381.3 L45.1,390 L50.1,391.3" fill="none" stroke="#000" stroke-width="2" stroke-linejoin="round" stroke-linecap="round"/>
<path d="M760,380.6 L765.9,386.5 L776.8,391.4 L778.2,395.4 L774.8,398.3 L774.8,403.3 L779.7,404.7 L784.7,405.2 L789.6,407.2" fill="none" stroke="#000" stroke-width="2" stroke-linejoin="round" stroke-linecap="round"/>
<path d="M783,390 L779,388" fill="none" stroke="#000" stroke-width="2" stroke-linejoin="round" stroke-linecap="round"/>
<path d="M786,398 L781,397" fill="none" stroke="#000" stroke-width="2" stroke-linejoin="round" stroke-linecap="round"/>
<path d="M790,409 L785,411 L790,413" fill="none" stroke="#000" stroke-width="2" stroke-linejoin="round" stroke-linecap="round"/>
<path d="M793,414 L788,417" fill="none" stroke="#000" stroke-width="2" stroke-linejoin="round" stroke-linecap="round"/>
<path d="M56.4,472.1 L65.1,474.6 L72.6,476.6" fill="none" stroke="#000" stroke-width="2" stroke-linejoin="round" stroke-linecap="round"/>
<path d="M66.4,491.6 L68.9,492.9" fill="none" stroke="#000" stroke-width="2" stroke-linejoin="round" stroke-linecap="round"/>
<path d="M85.2,492.1 L87.7,494.6" fill="none" stroke="#000" stroke-width="2" stroke-linejoin="round" stroke-linecap="round"/>
<path d="M82.7,500.9 L84.7,505.1" fill="none" stroke="#000" stroke-width="2" stroke-linejoin="round" stroke-linecap="round"/>
<path d="M590.7,605.6 L594.4,615.6 L598.2,623.2" fill="none" stroke="#000" stroke-width="2" stroke-linejoin="round" stroke-linecap="round"/>
<path d="M745.1,702.1 L753.9,698.3" fill="none" stroke="#000" stroke-width="2" stroke-linejoin="round" stroke-linecap="round"/>
<path d="M791.4,650.7 L796.4,652.2 L800.2,648.7 L810.2,646.2" fill="none" stroke="#000" stroke-width="2" stroke-linejoin="round" stroke-linecap="round"/>
<path d="M810.2,642.2 L820.2,641.2 L825.3,644 L828.3,648.2" fill="none" stroke="#000" stroke-width="2" stroke-linejoin="round" stroke-linecap="round"/>
<path d="M626.7,281.7 L629.3,282.5 L629.6,287.7 L628.4,291.4 L626.7,289.9Z" fill="#000" stroke="#000" stroke-width="0.8" stroke-linejoin="round"/>
<path d="M623.4,270.9 L625.9,269.8 L627,273.1 L624.6,273.7Z" fill="#000" stroke="#000" stroke-width="0.8" stroke-linejoin="round"/>
<path d="M619.2,284.7 L620.7,284.1 L621.1,287 L619.5,287.4Z" fill="#000" stroke="#000" stroke-width="0.8" stroke-linejoin="round"/>
<path d="M716.4,634.5 L721.3,632.5 L725.1,636.4 L724.2,642.2 L720.3,644.1 L719.3,639.3 L717,638.3Z" fill="#000" stroke="#000" stroke-width="0.8" stroke-linejoin="round"/>
<path d="M730.9,654.8 L734.8,652.8 L736.8,660.6 L739.7,658.6 L738.7,664.4 L733.8,663.5Z" fill="#000" stroke="#000" stroke-width="0.8" stroke-linejoin="round"/>
<path d="M750.7,612.2 L754.2,615.1 L756.5,620.9 L754.2,618Z" fill="#000" stroke="#000" stroke-width="0.8" stroke-linejoin="round"/>
<path d="M756.1,683.8 L760,686.7 L758,689.2 L755.1,687.7Z" fill="#000" stroke="#000" stroke-width="0.8" stroke-linejoin="round"/>
<path d="M99.4,160.8 L102.9,159.9 L105.9,164.8 L106.4,169.7 L104.4,176.6 L104.9,181.6 L100.9,187.5 L99.9,194.9 L94.5,197.8 L90.1,196.2 L91.1,192.9 L94,190.4 L96,186 L99.4,179.6 L99.9,173.7 L98,167.8Z" fill="#000" stroke="#000" stroke-width="0.8" stroke-linejoin="round"/>
<path d="M92.5,155.9 L94.5,153.9 L96.5,158.9 L94.5,161.8Z" fill="#000" stroke="#000" stroke-width="0.8" stroke-linejoin="round"/>
<path d="M861.1,319.4 L864.1,319.9 L863.9,322.4 L861.6,322.2Z" fill="#000" stroke="#000" stroke-width="0.8" stroke-linejoin="round"/>
<path d="M869,317.7 L873,317.3 L875,318.7 L872.5,319.6 L869.5,319.3Z" fill="#000" stroke="#000" stroke-width="0.8" stroke-linejoin="round"/>
<path d="M850.1,325.9 L851.3,325.6 L851.5,326.9 L850.3,327.1Z" fill="#000" stroke="#000" stroke-width="0.8" stroke-linejoin="round"/>
<text x="160.5" y="206" font-size="14.4" text-anchor="middle" fill="#fff" stroke="#fff" stroke-width="3" stroke-linejoin="round" textLength="17.7" lengthAdjust="spacingAndGlyphs">31</text>
<text x="160.5" y="206" font-size="14.4" text-anchor="middle" fill="#000" stroke="#000" stroke-width="0.35" textLength="17.7" lengthAdjust="spacingAndGlyphs">31</text>
<text x="127.0" y="248.5" font-size="14.4" text-anchor="middle" fill="#fff" stroke="#fff" stroke-width="3" stroke-linejoin="round" textLength="17.7" lengthAdjust="spacingAndGlyphs">31</text>
<text x="127.0" y="248.5" font-size="14.4" text-anchor="middle" fill="#000" stroke="#000" stroke-width="0.35" textLength="17.7" lengthAdjust="spacingAndGlyphs">31</text>
<text x="208.0" y="237" font-size="14.4" text-anchor="middle" fill="#fff" stroke="#fff" stroke-width="3" stroke-linejoin="round" textLength="17.7" lengthAdjust="spacingAndGlyphs">36</text>
<text x="208.0" y="237" font-size="14.4" text-anchor="middle" fill="#000" stroke="#000" stroke-width="0.35" textLength="17.7" lengthAdjust="spacingAndGlyphs">36</text>
<text x="255.5" y="237" font-size="14.4" text-anchor="middle" fill="#fff" stroke="#fff" stroke-width="3" stroke-linejoin="round" textLength="17.7" lengthAdjust="spacingAndGlyphs">36</text>
<text x="255.5" y="237" font-size="14.4" text-anchor="middle" fill="#000" stroke="#000" stroke-width="0.35" textLength="17.7" lengthAdjust="spacingAndGlyphs">36</text>
<text x="328.0" y="232.5" font-size="14.4" text-anchor="middle" fill="#fff" stroke="#fff" stroke-width="3" stroke-linejoin="round" textLength="17.7" lengthAdjust="spacingAndGlyphs">35</text>
<text x="328.0" y="232.5" font-size="14.4" text-anchor="middle" fill="#000" stroke="#000" stroke-width="0.35" textLength="17.7" lengthAdjust="spacingAndGlyphs">35</text>
<text x="307.0" y="273.5" font-size="14.4" text-anchor="middle" fill="#fff" stroke="#fff" stroke-width="3" stroke-linejoin="round" textLength="17.7" lengthAdjust="spacingAndGlyphs">36</text>
<text x="307.0" y="273.5" font-size="14.4" text-anchor="middle" fill="#000" stroke="#000" stroke-width="0.35" textLength="17.7" lengthAdjust="spacingAndGlyphs">36</text>
<text x="395.5" y="248.5" font-size="14.4" text-anchor="middle" fill="#fff" stroke="#fff" stroke-width="3" stroke-linejoin="round" textLength="17.7" lengthAdjust="spacingAndGlyphs">50</text>
<text x="395.5" y="248.5" font-size="14.4" text-anchor="middle" fill="#000" stroke="#000" stroke-width="0.35" textLength="17.7" lengthAdjust="spacingAndGlyphs">50</text>
<text x="461.0" y="244.5" font-size="14.4" text-anchor="middle" fill="#fff" stroke="#fff" stroke-width="3" stroke-linejoin="round" textLength="17.7" lengthAdjust="spacingAndGlyphs">53</text>
<text x="461.0" y="244.5" font-size="14.4" text-anchor="middle" fill="#000" stroke="#000" stroke-width="0.35" textLength="17.7" lengthAdjust="spacingAndGlyphs">53</text>
<text x="78.0" y="298.5" font-size="14.4" text-anchor="middle" fill="#fff" stroke="#fff" stroke-width="3" stroke-linejoin="round" textLength="17.7" lengthAdjust="spacingAndGlyphs">30</text>
<text x="78.0" y="298.5" font-size="14.4" text-anchor="middle" fill="#000" stroke="#000" stroke-width="0.35" textLength="17.7" lengthAdjust="spacingAndGlyphs">30</text>
<text x="158.0" y="298.5" font-size="14.4" text-anchor="middle" fill="#fff" stroke="#fff" stroke-width="3" stroke-linejoin="round" textLength="17.7" lengthAdjust="spacingAndGlyphs">31</text>
<text x="158.0" y="298.5" font-size="14.4" text-anchor="middle" fill="#000" stroke="#000" stroke-width="0.35" textLength="17.7" lengthAdjust="spacingAndGlyphs">31</text>
<text x="218.0" y="311" font-size="14.4" text-anchor="middle" fill="#fff" stroke="#fff" stroke-width="3" stroke-linejoin="round" textLength="17.7" lengthAdjust="spacingAndGlyphs">26</text>
<text x="218.0" y="311" font-size="14.4" text-anchor="middle" fill="#000" stroke="#000" stroke-width="0.35" textLength="17.7" lengthAdjust="spacingAndGlyphs">26</text>
<text x="279.0" y="323.5" font-size="14.4" text-anchor="middle" fill="#fff" stroke="#fff" stroke-width="3" stroke-linejoin="round" textLength="17.7" lengthAdjust="spacingAndGlyphs">30</text>
<text x="279.0" y="323.5" font-size="14.4" text-anchor="middle" fill="#000" stroke="#000" stroke-width="0.35" textLength="17.7" lengthAdjust="spacingAndGlyphs">30</text>
<text x="368.0" y="311" font-size="14.4" text-anchor="middle" fill="#fff" stroke="#fff" stroke-width="3" stroke-linejoin="round" textLength="17.7" lengthAdjust="spacingAndGlyphs">50</text>
<text x="368.0" y="311" font-size="14.4" text-anchor="middle" fill="#000" stroke="#000" stroke-width="0.35" textLength="17.7" lengthAdjust="spacingAndGlyphs">50</text>
<text x="425.5" y="297.5" font-size="14.4" text-anchor="middle" fill="#fff" stroke="#fff" stroke-width="3" stroke-linejoin="round" textLength="17.7" lengthAdjust="spacingAndGlyphs">50</text>
<text x="425.5" y="297.5" font-size="14.4" text-anchor="middle" fill="#000" stroke="#000" stroke-width="0.35" textLength="17.7" lengthAdjust="spacingAndGlyphs">50</text>
<text x="458.0" y="331" font-size="14.4" text-anchor="middle" fill="#fff" stroke="#fff" stroke-width="3" stroke-linejoin="round" textLength="17.7" lengthAdjust="spacingAndGlyphs">33</text>
<text x="458.0" y="331" font-size="14.4" text-anchor="middle" fill="#000" stroke="#000" stroke-width="0.35" textLength="17.7" lengthAdjust="spacingAndGlyphs">33</text>
<text x="44.5" y="334.5" font-size="14.4" text-anchor="middle" fill="#fff" stroke="#fff" stroke-width="3" stroke-linejoin="round" textLength="26.5" lengthAdjust="spacingAndGlyphs">253</text>
<text x="44.5" y="334.5" font-size="14.4" text-anchor="middle" fill="#000" stroke="#000" stroke-width="0.35" textLength="26.5" lengthAdjust="spacingAndGlyphs">253</text>
<text x="154.5" y="365" font-size="14.4" text-anchor="middle" fill="#fff" stroke="#fff" stroke-width="3" stroke-linejoin="round" textLength="26.5" lengthAdjust="spacingAndGlyphs">336</text>
<text x="154.5" y="365" font-size="14.4" text-anchor="middle" fill="#000" stroke="#000" stroke-width="0.35" textLength="26.5" lengthAdjust="spacingAndGlyphs">336</text>
<text x="333.0" y="355" font-size="14.4" text-anchor="middle" fill="#fff" stroke="#fff" stroke-width="3" stroke-linejoin="round" textLength="17.7" lengthAdjust="spacingAndGlyphs">50</text>
<text x="333.0" y="355" font-size="14.4" text-anchor="middle" fill="#000" stroke="#000" stroke-width="0.35" textLength="17.7" lengthAdjust="spacingAndGlyphs">50</text>
<text x="400.5" y="363.5" font-size="14.4" text-anchor="middle" fill="#fff" stroke="#fff" stroke-width="3" stroke-linejoin="round" textLength="17.7" lengthAdjust="spacingAndGlyphs">50</text>
<text x="400.5" y="363.5" font-size="14.4" text-anchor="middle" fill="#000" stroke="#000" stroke-width="0.35" textLength="17.7" lengthAdjust="spacingAndGlyphs">50</text>
<text x="523.5" y="256" font-size="14.4" text-anchor="middle" fill="#fff" stroke="#fff" stroke-width="3" stroke-linejoin="round" textLength="17.7" lengthAdjust="spacingAndGlyphs">33</text>
<text x="523.5" y="256" font-size="14.4" text-anchor="middle" fill="#000" stroke="#000" stroke-width="0.35" textLength="17.7" lengthAdjust="spacingAndGlyphs">33</text>
<text x="590.5" y="266" font-size="14.4" text-anchor="middle" fill="#fff" stroke="#fff" stroke-width="3" stroke-linejoin="round" textLength="26.5" lengthAdjust="spacingAndGlyphs">245</text>
<text x="590.5" y="266" font-size="14.4" text-anchor="middle" fill="#000" stroke="#000" stroke-width="0.35" textLength="26.5" lengthAdjust="spacingAndGlyphs">245</text>
<text x="577.5" y="296" font-size="14.4" text-anchor="middle" fill="#fff" stroke="#fff" stroke-width="3" stroke-linejoin="round" textLength="26.5" lengthAdjust="spacingAndGlyphs">245</text>
<text x="577.5" y="296" font-size="14.4" text-anchor="middle" fill="#000" stroke="#000" stroke-width="0.35" textLength="26.5" lengthAdjust="spacingAndGlyphs">245</text>
<text x="504.5" y="300" font-size="14.4" text-anchor="middle" fill="#fff" stroke="#fff" stroke-width="3" stroke-linejoin="round" textLength="17.7" lengthAdjust="spacingAndGlyphs">33</text>
<text x="504.5" y="300" font-size="14.4" text-anchor="middle" fill="#000" stroke="#000" stroke-width="0.35" textLength="17.7" lengthAdjust="spacingAndGlyphs">33</text>
<text x="541.5" y="324" font-size="14.4" text-anchor="middle" fill="#fff" stroke="#fff" stroke-width="3" stroke-linejoin="round" textLength="26.5" lengthAdjust="spacingAndGlyphs">245</text>
<text x="541.5" y="324" font-size="14.4" text-anchor="middle" fill="#000" stroke="#000" stroke-width="0.35" textLength="26.5" lengthAdjust="spacingAndGlyphs">245</text>
<text x="578.5" y="334" font-size="14.4" text-anchor="middle" fill="#fff" stroke="#fff" stroke-width="3" stroke-linejoin="round" textLength="26.5" lengthAdjust="spacingAndGlyphs">292</text>
<text x="578.5" y="334" font-size="14.4" text-anchor="middle" fill="#000" stroke="#000" stroke-width="0.35" textLength="26.5" lengthAdjust="spacingAndGlyphs">292</text>
<text x="661.5" y="330" font-size="14.4" text-anchor="middle" fill="#fff" stroke="#fff" stroke-width="3" stroke-linejoin="round" textLength="26.5" lengthAdjust="spacingAndGlyphs">292</text>
<text x="661.5" y="330" font-size="14.4" text-anchor="middle" fill="#000" stroke="#000" stroke-width="0.35" textLength="26.5" lengthAdjust="spacingAndGlyphs">292</text>
<text x="461.5" y="375" font-size="14.4" text-anchor="middle" fill="#fff" stroke="#fff" stroke-width="3" stroke-linejoin="round" textLength="26.5" lengthAdjust="spacingAndGlyphs">246</text>
<text x="461.5" y="375" font-size="14.4" text-anchor="middle" fill="#000" stroke="#000" stroke-width="0.35" textLength="26.5" lengthAdjust="spacingAndGlyphs">246</text>
<text x="507.5" y="363" font-size="14.4" text-anchor="middle" fill="#fff" stroke="#fff" stroke-width="3" stroke-linejoin="round" textLength="26.5" lengthAdjust="spacingAndGlyphs">241</text>
<text x="507.5" y="363" font-size="14.4" text-anchor="middle" fill="#000" stroke="#000" stroke-width="0.35" textLength="26.5" lengthAdjust="spacingAndGlyphs">241</text>
<text x="550.5" y="371" font-size="14.4" text-anchor="middle" fill="#fff" stroke="#fff" stroke-width="3" stroke-linejoin="round" textLength="26.5" lengthAdjust="spacingAndGlyphs">241</text>
<text x="550.5" y="371" font-size="14.4" text-anchor="middle" fill="#000" stroke="#000" stroke-width="0.35" textLength="26.5" lengthAdjust="spacingAndGlyphs">241</text>
<text x="593.5" y="369" font-size="14.4" text-anchor="middle" fill="#fff" stroke="#fff" stroke-width="3" stroke-linejoin="round" textLength="26.5" lengthAdjust="spacingAndGlyphs">292</text>
<text x="593.5" y="369" font-size="14.4" text-anchor="middle" fill="#000" stroke="#000" stroke-width="0.35" textLength="26.5" lengthAdjust="spacingAndGlyphs">292</text>
<text x="430.5" y="395" font-size="14.4" text-anchor="middle" fill="#fff" stroke="#fff" stroke-width="3" stroke-linejoin="round" textLength="26.5" lengthAdjust="spacingAndGlyphs">245</text>
<text x="430.5" y="395" font-size="14.4" text-anchor="middle" fill="#000" stroke="#000" stroke-width="0.35" textLength="26.5" lengthAdjust="spacingAndGlyphs">245</text>
<text x="583.5" y="402" font-size="14.4" text-anchor="middle" fill="#fff" stroke="#fff" stroke-width="3" stroke-linejoin="round" textLength="26.5" lengthAdjust="spacingAndGlyphs">241</text>
<text x="583.5" y="402" font-size="14.4" text-anchor="middle" fill="#000" stroke="#000" stroke-width="0.35" textLength="26.5" lengthAdjust="spacingAndGlyphs">241</text>
<text x="625.5" y="405" font-size="14.4" text-anchor="middle" fill="#fff" stroke="#fff" stroke-width="3" stroke-linejoin="round" textLength="26.5" lengthAdjust="spacingAndGlyphs">292</text>
<text x="625.5" y="405" font-size="14.4" text-anchor="middle" fill="#000" stroke="#000" stroke-width="0.35" textLength="26.5" lengthAdjust="spacingAndGlyphs">292</text>
<text x="466.5" y="422" font-size="14.4" text-anchor="middle" fill="#fff" stroke="#fff" stroke-width="3" stroke-linejoin="round" textLength="26.5" lengthAdjust="spacingAndGlyphs">338</text>
<text x="466.5" y="422" font-size="14.4" text-anchor="middle" fill="#000" stroke="#000" stroke-width="0.35" textLength="26.5" lengthAdjust="spacingAndGlyphs">338</text>
<text x="504.5" y="415" font-size="14.4" text-anchor="middle" fill="#fff" stroke="#fff" stroke-width="3" stroke-linejoin="round" textLength="26.5" lengthAdjust="spacingAndGlyphs">241</text>
<text x="504.5" y="415" font-size="14.4" text-anchor="middle" fill="#000" stroke="#000" stroke-width="0.35" textLength="26.5" lengthAdjust="spacingAndGlyphs">241</text>
<text x="555.5" y="428" font-size="14.4" text-anchor="middle" fill="#fff" stroke="#fff" stroke-width="3" stroke-linejoin="round" textLength="26.5" lengthAdjust="spacingAndGlyphs">312</text>
<text x="555.5" y="428" font-size="14.4" text-anchor="middle" fill="#000" stroke="#000" stroke-width="0.35" textLength="26.5" lengthAdjust="spacingAndGlyphs">312</text>
<text x="520.5" y="458" font-size="14.4" text-anchor="middle" fill="#fff" stroke="#fff" stroke-width="3" stroke-linejoin="round" textLength="26.5" lengthAdjust="spacingAndGlyphs">312</text>
<text x="520.5" y="458" font-size="14.4" text-anchor="middle" fill="#000" stroke="#000" stroke-width="0.35" textLength="26.5" lengthAdjust="spacingAndGlyphs">312</text>
<text x="452.5" y="565" font-size="14.4" text-anchor="middle" fill="#fff" stroke="#fff" stroke-width="3" stroke-linejoin="round" textLength="26.5" lengthAdjust="spacingAndGlyphs">313</text>
<text x="452.5" y="565" font-size="14.4" text-anchor="middle" fill="#000" stroke="#000" stroke-width="0.35" textLength="26.5" lengthAdjust="spacingAndGlyphs">313</text>
<text x="380.5" y="490" font-size="14.4" text-anchor="middle" fill="#fff" stroke="#fff" stroke-width="3" stroke-linejoin="round" textLength="17.7" lengthAdjust="spacingAndGlyphs">48</text>
<text x="380.5" y="490" font-size="14.4" text-anchor="middle" fill="#000" stroke="#000" stroke-width="0.35" textLength="17.7" lengthAdjust="spacingAndGlyphs">48</text>
<text x="377.5" y="533" font-size="14.4" text-anchor="middle" fill="#fff" stroke="#fff" stroke-width="3" stroke-linejoin="round" textLength="17.7" lengthAdjust="spacingAndGlyphs">48</text>
<text x="377.5" y="533" font-size="14.4" text-anchor="middle" fill="#000" stroke="#000" stroke-width="0.35" textLength="17.7" lengthAdjust="spacingAndGlyphs">48</text>
<text x="281.5" y="555" font-size="14.4" text-anchor="middle" fill="#fff" stroke="#fff" stroke-width="3" stroke-linejoin="round" textLength="17.7" lengthAdjust="spacingAndGlyphs">48</text>
<text x="281.5" y="555" font-size="14.4" text-anchor="middle" fill="#000" stroke="#000" stroke-width="0.35" textLength="17.7" lengthAdjust="spacingAndGlyphs">48</text>
<text x="346.5" y="581" font-size="14.4" text-anchor="middle" fill="#fff" stroke="#fff" stroke-width="3" stroke-linejoin="round" textLength="17.7" lengthAdjust="spacingAndGlyphs">48</text>
<text x="346.5" y="581" font-size="14.4" text-anchor="middle" fill="#000" stroke="#000" stroke-width="0.35" textLength="17.7" lengthAdjust="spacingAndGlyphs">48</text>
<text x="400.5" y="581" font-size="14.4" text-anchor="middle" fill="#fff" stroke="#fff" stroke-width="3" stroke-linejoin="round" textLength="17.7" lengthAdjust="spacingAndGlyphs">48</text>
<text x="400.5" y="581" font-size="14.4" text-anchor="middle" fill="#000" stroke="#000" stroke-width="0.35" textLength="17.7" lengthAdjust="spacingAndGlyphs">48</text>
<text x="336.5" y="399" font-size="14.4" text-anchor="middle" fill="#fff" stroke="#fff" stroke-width="3" stroke-linejoin="round" textLength="17.7" lengthAdjust="spacingAndGlyphs">49</text>
<text x="336.5" y="399" font-size="14.4" text-anchor="middle" fill="#000" stroke="#000" stroke-width="0.35" textLength="17.7" lengthAdjust="spacingAndGlyphs">49</text>
<text x="384.5" y="415" font-size="14.4" text-anchor="middle" fill="#fff" stroke="#fff" stroke-width="3" stroke-linejoin="round" textLength="17.7" lengthAdjust="spacingAndGlyphs">49</text>
<text x="384.5" y="415" font-size="14.4" text-anchor="middle" fill="#000" stroke="#000" stroke-width="0.35" textLength="17.7" lengthAdjust="spacingAndGlyphs">49</text>
<text x="273.5" y="414" font-size="14.4" text-anchor="middle" fill="#fff" stroke="#fff" stroke-width="3" stroke-linejoin="round" textLength="17.7" lengthAdjust="spacingAndGlyphs">37</text>
<text x="273.5" y="414" font-size="14.4" text-anchor="middle" fill="#000" stroke="#000" stroke-width="0.35" textLength="17.7" lengthAdjust="spacingAndGlyphs">37</text>
<text x="331.5" y="442" font-size="14.4" text-anchor="middle" fill="#fff" stroke="#fff" stroke-width="3" stroke-linejoin="round" textLength="17.7" lengthAdjust="spacingAndGlyphs">36</text>
<text x="331.5" y="442" font-size="14.4" text-anchor="middle" fill="#000" stroke="#000" stroke-width="0.35" textLength="17.7" lengthAdjust="spacingAndGlyphs">36</text>
<text x="86.5" y="435" font-size="14.4" text-anchor="middle" fill="#fff" stroke="#fff" stroke-width="3" stroke-linejoin="round" textLength="17.7" lengthAdjust="spacingAndGlyphs">35</text>
<text x="86.5" y="435" font-size="14.4" text-anchor="middle" fill="#000" stroke="#000" stroke-width="0.35" textLength="17.7" lengthAdjust="spacingAndGlyphs">35</text>
<text x="147.5" y="449" font-size="14.4" text-anchor="middle" fill="#fff" stroke="#fff" stroke-width="3" stroke-linejoin="round" textLength="17.7" lengthAdjust="spacingAndGlyphs">35</text>
<text x="147.5" y="449" font-size="14.4" text-anchor="middle" fill="#000" stroke="#000" stroke-width="0.35" textLength="17.7" lengthAdjust="spacingAndGlyphs">35</text>
<text x="77.5" y="468" font-size="14.4" text-anchor="middle" fill="#fff" stroke="#fff" stroke-width="3" stroke-linejoin="round" textLength="26.5" lengthAdjust="spacingAndGlyphs">252</text>
<text x="77.5" y="468" font-size="14.4" text-anchor="middle" fill="#000" stroke="#000" stroke-width="0.35" textLength="26.5" lengthAdjust="spacingAndGlyphs">252</text>
<text x="113.5" y="498" font-size="14.4" text-anchor="middle" fill="#fff" stroke="#fff" stroke-width="3" stroke-linejoin="round" textLength="26.5" lengthAdjust="spacingAndGlyphs">252</text>
<text x="113.5" y="498" font-size="14.4" text-anchor="middle" fill="#000" stroke="#000" stroke-width="0.35" textLength="26.5" lengthAdjust="spacingAndGlyphs">252</text>
<text x="218.5" y="483" font-size="14.4" text-anchor="middle" fill="#fff" stroke="#fff" stroke-width="3" stroke-linejoin="round" textLength="26.5" lengthAdjust="spacingAndGlyphs">270</text>
<text x="218.5" y="483" font-size="14.4" text-anchor="middle" fill="#000" stroke="#000" stroke-width="0.35" textLength="26.5" lengthAdjust="spacingAndGlyphs">270</text>
<text x="169.5" y="518" font-size="14.4" text-anchor="middle" fill="#fff" stroke="#fff" stroke-width="3" stroke-linejoin="round" textLength="26.5" lengthAdjust="spacingAndGlyphs">354</text>
<text x="169.5" y="518" font-size="14.4" text-anchor="middle" fill="#000" stroke="#000" stroke-width="0.35" textLength="26.5" lengthAdjust="spacingAndGlyphs">354</text>
<text x="215.5" y="546" font-size="14.4" text-anchor="middle" fill="#fff" stroke="#fff" stroke-width="3" stroke-linejoin="round" textLength="26.5" lengthAdjust="spacingAndGlyphs">270</text>
<text x="215.5" y="546" font-size="14.4" text-anchor="middle" fill="#000" stroke="#000" stroke-width="0.35" textLength="26.5" lengthAdjust="spacingAndGlyphs">270</text>
<text x="51.5" y="405" font-size="14.4" text-anchor="middle" fill="#fff" stroke="#fff" stroke-width="3" stroke-linejoin="round" textLength="35.4" lengthAdjust="spacingAndGlyphs">3580</text>
<text x="51.5" y="405" font-size="14.4" text-anchor="middle" fill="#000" stroke="#000" stroke-width="0.35" textLength="35.4" lengthAdjust="spacingAndGlyphs">3580</text>
<text x="783.5" y="432" font-size="14.4" text-anchor="middle" fill="#fff" stroke="#fff" stroke-width="3" stroke-linejoin="round" textLength="26.5" lengthAdjust="spacingAndGlyphs">297</text>
<text x="783.5" y="432" font-size="14.4" text-anchor="middle" fill="#000" stroke="#000" stroke-width="0.35" textLength="26.5" lengthAdjust="spacingAndGlyphs">297</text>
<text x="790.5" y="471" font-size="14.4" text-anchor="middle" fill="#fff" stroke="#fff" stroke-width="3" stroke-linejoin="round" textLength="26.5" lengthAdjust="spacingAndGlyphs">297</text>
<text x="790.5" y="471" font-size="14.4" text-anchor="middle" fill="#000" stroke="#000" stroke-width="0.35" textLength="26.5" lengthAdjust="spacingAndGlyphs">297</text>
<text x="429.5" y="684" font-size="14.4" text-anchor="middle" fill="#fff" stroke="#fff" stroke-width="3" stroke-linejoin="round" textLength="35.4" lengthAdjust="spacingAndGlyphs">3601</text>
<text x="429.5" y="684" font-size="14.4" text-anchor="middle" fill="#000" stroke="#000" stroke-width="0.35" textLength="35.4" lengthAdjust="spacingAndGlyphs">3601</text>
<text x="100.5" y="192" font-size="14.4" text-anchor="middle" fill="#fff" stroke="#fff" stroke-width="3" stroke-linejoin="round" textLength="17.7" lengthAdjust="spacingAndGlyphs">30</text>
<text x="100.5" y="192" font-size="14.4" text-anchor="middle" fill="#000" stroke="#000" stroke-width="0.35" textLength="17.7" lengthAdjust="spacingAndGlyphs">30</text>
<text x="748.1" y="631.7" font-size="14.4" text-anchor="middle" fill="#fff" stroke="#fff" stroke-width="3" stroke-linejoin="round" textLength="5" lengthAdjust="spacingAndGlyphs">-</text>
<text x="748.1" y="631.7" font-size="14.4" text-anchor="middle" fill="#000" stroke="#000" stroke-width="0.35" textLength="5" lengthAdjust="spacingAndGlyphs">-</text>
<text x="731.8" y="641.2" font-size="14.4" text-anchor="middle" fill="#fff" stroke="#fff" stroke-width="3" stroke-linejoin="round" textLength="5" lengthAdjust="spacingAndGlyphs">-</text>
<text x="731.8" y="641.2" font-size="14.4" text-anchor="middle" fill="#000" stroke="#000" stroke-width="0.35" textLength="5" lengthAdjust="spacingAndGlyphs">-</text>
<text x="759.4" y="672.2" font-size="14.4" text-anchor="middle" fill="#fff" stroke="#fff" stroke-width="3" stroke-linejoin="round" textLength="5" lengthAdjust="spacingAndGlyphs">-</text>
<text x="759.4" y="672.2" font-size="14.4" text-anchor="middle" fill="#000" stroke="#000" stroke-width="0.35" textLength="5" lengthAdjust="spacingAndGlyphs">-</text>
<text x="760.5" y="700.5" font-size="14.4" text-anchor="middle" fill="#fff" stroke="#fff" stroke-width="3" stroke-linejoin="round" textLength="5" lengthAdjust="spacingAndGlyphs">-</text>
<text x="760.5" y="700.5" font-size="14.4" text-anchor="middle" fill="#000" stroke="#000" stroke-width="0.35" textLength="5" lengthAdjust="spacingAndGlyphs">-</text>
<text x="679.5" y="354" font-size="14.4" text-anchor="middle" fill="#fff" stroke="#fff" stroke-width="3" stroke-linejoin="round" textLength="5" lengthAdjust="spacingAndGlyphs">-</text>
<text x="679.5" y="354" font-size="14.4" text-anchor="middle" fill="#000" stroke="#000" stroke-width="0.35" textLength="5" lengthAdjust="spacingAndGlyphs">-</text>
<text x="81.5" y="242" font-size="14.4" text-anchor="middle" fill="#fff" stroke="#fff" stroke-width="3" stroke-linejoin="round" textLength="8.8" lengthAdjust="spacingAndGlyphs">0</text>
<text x="81.5" y="242" font-size="14.4" text-anchor="middle" fill="#000" stroke="#000" stroke-width="0.35" textLength="8.8" lengthAdjust="spacingAndGlyphs">0</text>
<text x="68.0" y="365" font-size="14.4" text-anchor="middle" fill="#fff" stroke="#fff" stroke-width="3" stroke-linejoin="round" textLength="8.8" lengthAdjust="spacingAndGlyphs">0</text>
<text x="68.0" y="365" font-size="14.4" text-anchor="middle" fill="#000" stroke="#000" stroke-width="0.35" textLength="8.8" lengthAdjust="spacingAndGlyphs">0</text>
<text x="107.0" y="363" font-size="14.4" text-anchor="middle" fill="#fff" stroke="#fff" stroke-width="3" stroke-linejoin="round" textLength="8.8" lengthAdjust="spacingAndGlyphs">0</text>
<text x="107.0" y="363" font-size="14.4" text-anchor="middle" fill="#000" stroke="#000" stroke-width="0.35" textLength="8.8" lengthAdjust="spacingAndGlyphs">0</text>
<text x="640.5" y="290" font-size="14.4" text-anchor="middle" fill="#fff" stroke="#fff" stroke-width="3" stroke-linejoin="round" textLength="8.8" lengthAdjust="spacingAndGlyphs">1</text>
<text x="640.5" y="290" font-size="14.4" text-anchor="middle" fill="#000" stroke="#000" stroke-width="0.35" textLength="8.8" lengthAdjust="spacingAndGlyphs">1</text>
<text x="634.5" y="331" font-size="14.4" text-anchor="middle" fill="#fff" stroke="#fff" stroke-width="3" stroke-linejoin="round" textLength="8.8" lengthAdjust="spacingAndGlyphs">2</text>
<text x="634.5" y="331" font-size="14.4" text-anchor="middle" fill="#000" stroke="#000" stroke-width="0.35" textLength="8.8" lengthAdjust="spacingAndGlyphs">2</text>
<text x="637.5" y="369" font-size="14.4" text-anchor="middle" fill="#fff" stroke="#fff" stroke-width="3" stroke-linejoin="round" textLength="17.7" lengthAdjust="spacingAndGlyphs">13</text>
<text x="637.5" y="369" font-size="14.4" text-anchor="middle" fill="#000" stroke="#000" stroke-width="0.35" textLength="17.7" lengthAdjust="spacingAndGlyphs">13</text>
<text x="692.5" y="363" font-size="14.4" text-anchor="middle" fill="#fff" stroke="#fff" stroke-width="3" stroke-linejoin="round" textLength="17.7" lengthAdjust="spacingAndGlyphs">13</text>
<text x="692.5" y="363" font-size="14.4" text-anchor="middle" fill="#000" stroke="#000" stroke-width="0.35" textLength="17.7" lengthAdjust="spacingAndGlyphs">13</text>
<text x="666.5" y="402" font-size="14.4" text-anchor="middle" fill="#fff" stroke="#fff" stroke-width="3" stroke-linejoin="round" textLength="26.5" lengthAdjust="spacingAndGlyphs">694</text>
<text x="666.5" y="402" font-size="14.4" text-anchor="middle" fill="#000" stroke="#000" stroke-width="0.35" textLength="26.5" lengthAdjust="spacingAndGlyphs">694</text>
<text x="404.5" y="448" font-size="14.4" text-anchor="middle" fill="#fff" stroke="#fff" stroke-width="3" stroke-linejoin="round" textLength="17.7" lengthAdjust="spacingAndGlyphs">11</text>
<text x="404.5" y="448" font-size="14.4" text-anchor="middle" fill="#000" stroke="#000" stroke-width="0.35" textLength="17.7" lengthAdjust="spacingAndGlyphs">11</text>
<text x="453.5" y="448" font-size="14.4" text-anchor="middle" fill="#fff" stroke="#fff" stroke-width="3" stroke-linejoin="round" textLength="17.7" lengthAdjust="spacingAndGlyphs">11</text>
<text x="453.5" y="448" font-size="14.4" text-anchor="middle" fill="#000" stroke="#000" stroke-width="0.35" textLength="17.7" lengthAdjust="spacingAndGlyphs">11</text>
<text x="592.5" y="455" font-size="14.4" text-anchor="middle" fill="#fff" stroke="#fff" stroke-width="3" stroke-linejoin="round" textLength="26.5" lengthAdjust="spacingAndGlyphs">702</text>
<text x="592.5" y="455" font-size="14.4" text-anchor="middle" fill="#000" stroke="#000" stroke-width="0.35" textLength="26.5" lengthAdjust="spacingAndGlyphs">702</text>
<text x="641.5" y="444" font-size="14.4" text-anchor="middle" fill="#fff" stroke="#fff" stroke-width="3" stroke-linejoin="round" textLength="26.5" lengthAdjust="spacingAndGlyphs">982</text>
<text x="641.5" y="444" font-size="14.4" text-anchor="middle" fill="#000" stroke="#000" stroke-width="0.35" textLength="26.5" lengthAdjust="spacingAndGlyphs">982</text>
<text x="676.5" y="446" font-size="14.4" text-anchor="middle" fill="#fff" stroke="#fff" stroke-width="3" stroke-linejoin="round" textLength="26.5" lengthAdjust="spacingAndGlyphs">684</text>
<text x="676.5" y="446" font-size="14.4" text-anchor="middle" fill="#000" stroke="#000" stroke-width="0.35" textLength="26.5" lengthAdjust="spacingAndGlyphs">684</text>
<text x="630.5" y="482" font-size="14.4" text-anchor="middle" fill="#fff" stroke="#fff" stroke-width="3" stroke-linejoin="round" textLength="35.4" lengthAdjust="spacingAndGlyphs">1066</text>
<text x="630.5" y="482" font-size="14.4" text-anchor="middle" fill="#000" stroke="#000" stroke-width="0.35" textLength="35.4" lengthAdjust="spacingAndGlyphs">1066</text>
<text x="678.5" y="476" font-size="14.4" text-anchor="middle" fill="#fff" stroke="#fff" stroke-width="3" stroke-linejoin="round" textLength="17.7" lengthAdjust="spacingAndGlyphs">13</text>
<text x="678.5" y="476" font-size="14.4" text-anchor="middle" fill="#000" stroke="#000" stroke-width="0.35" textLength="17.7" lengthAdjust="spacingAndGlyphs">13</text>
<text x="708.5" y="490" font-size="14.4" text-anchor="middle" fill="#fff" stroke="#fff" stroke-width="3" stroke-linejoin="round" textLength="17.7" lengthAdjust="spacingAndGlyphs">13</text>
<text x="708.5" y="490" font-size="14.4" text-anchor="middle" fill="#000" stroke="#000" stroke-width="0.35" textLength="17.7" lengthAdjust="spacingAndGlyphs">13</text>
<text x="581.5" y="503" font-size="14.4" text-anchor="middle" fill="#fff" stroke="#fff" stroke-width="3" stroke-linejoin="round" textLength="35.4" lengthAdjust="spacingAndGlyphs">1067</text>
<text x="581.5" y="503" font-size="14.4" text-anchor="middle" fill="#000" stroke="#000" stroke-width="0.35" textLength="35.4" lengthAdjust="spacingAndGlyphs">1067</text>
<text x="532.5" y="511" font-size="14.4" text-anchor="middle" fill="#fff" stroke="#fff" stroke-width="3" stroke-linejoin="round" textLength="26.5" lengthAdjust="spacingAndGlyphs">737</text>
<text x="532.5" y="511" font-size="14.4" text-anchor="middle" fill="#000" stroke="#000" stroke-width="0.35" textLength="26.5" lengthAdjust="spacingAndGlyphs">737</text>
<text x="630.5" y="509" font-size="14.4" text-anchor="middle" fill="#fff" stroke="#fff" stroke-width="3" stroke-linejoin="round" textLength="26.5" lengthAdjust="spacingAndGlyphs">685</text>
<text x="630.5" y="509" font-size="14.4" text-anchor="middle" fill="#000" stroke="#000" stroke-width="0.35" textLength="26.5" lengthAdjust="spacingAndGlyphs">685</text>
<text x="634.5" y="543" font-size="14.4" text-anchor="middle" fill="#fff" stroke="#fff" stroke-width="3" stroke-linejoin="round" textLength="26.5" lengthAdjust="spacingAndGlyphs">685</text>
<text x="634.5" y="543" font-size="14.4" text-anchor="middle" fill="#000" stroke="#000" stroke-width="0.35" textLength="26.5" lengthAdjust="spacingAndGlyphs">685</text>
<text x="682.5" y="531" font-size="14.4" text-anchor="middle" fill="#fff" stroke="#fff" stroke-width="3" stroke-linejoin="round" textLength="26.5" lengthAdjust="spacingAndGlyphs">684</text>
<text x="682.5" y="531" font-size="14.4" text-anchor="middle" fill="#000" stroke="#000" stroke-width="0.35" textLength="26.5" lengthAdjust="spacingAndGlyphs">684</text>
<text x="574.5" y="558" font-size="14.4" text-anchor="middle" fill="#fff" stroke="#fff" stroke-width="3" stroke-linejoin="round" textLength="26.5" lengthAdjust="spacingAndGlyphs">685</text>
<text x="574.5" y="558" font-size="14.4" text-anchor="middle" fill="#000" stroke="#000" stroke-width="0.35" textLength="26.5" lengthAdjust="spacingAndGlyphs">685</text>
<text x="509.5" y="558" font-size="14.4" text-anchor="middle" fill="#fff" stroke="#fff" stroke-width="3" stroke-linejoin="round" textLength="35.4" lengthAdjust="spacingAndGlyphs">1063</text>
<text x="509.5" y="558" font-size="14.4" text-anchor="middle" fill="#000" stroke="#000" stroke-width="0.35" textLength="35.4" lengthAdjust="spacingAndGlyphs">1063</text>
<text x="620.5" y="583" font-size="14.4" text-anchor="middle" fill="#fff" stroke="#fff" stroke-width="3" stroke-linejoin="round" textLength="35.4" lengthAdjust="spacingAndGlyphs">2511</text>
<text x="620.5" y="583" font-size="14.4" text-anchor="middle" fill="#000" stroke="#000" stroke-width="0.35" textLength="35.4" lengthAdjust="spacingAndGlyphs">2511</text>
<text x="677.5" y="585" font-size="14.4" text-anchor="middle" fill="#fff" stroke="#fff" stroke-width="3" stroke-linejoin="round" textLength="35.4" lengthAdjust="spacingAndGlyphs">2511</text>
<text x="677.5" y="585" font-size="14.4" text-anchor="middle" fill="#000" stroke="#000" stroke-width="0.35" textLength="35.4" lengthAdjust="spacingAndGlyphs">2511</text>
<text x="720.5" y="587" font-size="14.4" text-anchor="middle" fill="#fff" stroke="#fff" stroke-width="3" stroke-linejoin="round" textLength="35.4" lengthAdjust="spacingAndGlyphs">1075</text>
<text x="720.5" y="587" font-size="14.4" text-anchor="middle" fill="#000" stroke="#000" stroke-width="0.35" textLength="35.4" lengthAdjust="spacingAndGlyphs">1075</text>
<text x="526.5" y="604" font-size="14.4" text-anchor="middle" fill="#fff" stroke="#fff" stroke-width="3" stroke-linejoin="round" textLength="35.4" lengthAdjust="spacingAndGlyphs">2511</text>
<text x="526.5" y="604" font-size="14.4" text-anchor="middle" fill="#000" stroke="#000" stroke-width="0.35" textLength="35.4" lengthAdjust="spacingAndGlyphs">2511</text>
<text x="574.5" y="604" font-size="14.4" text-anchor="middle" fill="#fff" stroke="#fff" stroke-width="3" stroke-linejoin="round" textLength="35.4" lengthAdjust="spacingAndGlyphs">2511</text>
<text x="574.5" y="604" font-size="14.4" text-anchor="middle" fill="#000" stroke="#000" stroke-width="0.35" textLength="35.4" lengthAdjust="spacingAndGlyphs">2511</text>
<text x="477.5" y="613" font-size="14.4" text-anchor="middle" fill="#fff" stroke="#fff" stroke-width="3" stroke-linejoin="round" textLength="35.4" lengthAdjust="spacingAndGlyphs">2511</text>
<text x="477.5" y="613" font-size="14.4" text-anchor="middle" fill="#000" stroke="#000" stroke-width="0.35" textLength="35.4" lengthAdjust="spacingAndGlyphs">2511</text>
<text x="419.5" y="621" font-size="14.4" text-anchor="middle" fill="#fff" stroke="#fff" stroke-width="3" stroke-linejoin="round" textLength="35.4" lengthAdjust="spacingAndGlyphs">1063</text>
<text x="419.5" y="621" font-size="14.4" text-anchor="middle" fill="#000" stroke="#000" stroke-width="0.35" textLength="35.4" lengthAdjust="spacingAndGlyphs">1063</text>
<text x="431.5" y="654" font-size="14.4" text-anchor="middle" fill="#fff" stroke="#fff" stroke-width="3" stroke-linejoin="round" textLength="35.4" lengthAdjust="spacingAndGlyphs">2516</text>
<text x="431.5" y="654" font-size="14.4" text-anchor="middle" fill="#000" stroke="#000" stroke-width="0.35" textLength="35.4" lengthAdjust="spacingAndGlyphs">2516</text>
<text x="435.5" y="506" font-size="14.4" text-anchor="middle" fill="#fff" stroke="#fff" stroke-width="3" stroke-linejoin="round" textLength="8.8" lengthAdjust="spacingAndGlyphs">1</text>
<text x="435.5" y="506" font-size="14.4" text-anchor="middle" fill="#000" stroke="#000" stroke-width="0.35" textLength="8.8" lengthAdjust="spacingAndGlyphs">1</text>
<text x="485.5" y="495" font-size="14.4" text-anchor="middle" fill="#fff" stroke="#fff" stroke-width="3" stroke-linejoin="round" textLength="8.8" lengthAdjust="spacingAndGlyphs">0</text>
<text x="485.5" y="495" font-size="14.4" text-anchor="middle" fill="#000" stroke="#000" stroke-width="0.35" textLength="8.8" lengthAdjust="spacingAndGlyphs">0</text>
<text x="302.5" y="499" font-size="14.4" text-anchor="middle" fill="#fff" stroke="#fff" stroke-width="3" stroke-linejoin="round" textLength="8.8" lengthAdjust="spacingAndGlyphs">3</text>
<text x="302.5" y="499" font-size="14.4" text-anchor="middle" fill="#000" stroke="#000" stroke-width="0.35" textLength="8.8" lengthAdjust="spacingAndGlyphs">3</text>
<text x="216.5" y="393" font-size="14.4" text-anchor="middle" fill="#fff" stroke="#fff" stroke-width="3" stroke-linejoin="round" textLength="8.8" lengthAdjust="spacingAndGlyphs">1</text>
<text x="216.5" y="393" font-size="14.4" text-anchor="middle" fill="#000" stroke="#000" stroke-width="0.35" textLength="8.8" lengthAdjust="spacingAndGlyphs">1</text>
<text x="866.5" y="225" font-size="14.4" text-anchor="middle" fill="#fff" stroke="#fff" stroke-width="3" stroke-linejoin="round" textLength="8.8" lengthAdjust="spacingAndGlyphs">1</text>
<text x="866.5" y="225" font-size="14.4" text-anchor="middle" fill="#000" stroke="#000" stroke-width="0.35" textLength="8.8" lengthAdjust="spacingAndGlyphs">1</text>
<text x="806.5" y="273" font-size="14.4" text-anchor="middle" fill="#fff" stroke="#fff" stroke-width="3" stroke-linejoin="round" textLength="8.8" lengthAdjust="spacingAndGlyphs">8</text>
<text x="806.5" y="273" font-size="14.4" text-anchor="middle" fill="#000" stroke="#000" stroke-width="0.35" textLength="8.8" lengthAdjust="spacingAndGlyphs">8</text>
<text x="846.5" y="263" font-size="14.4" text-anchor="middle" fill="#fff" stroke="#fff" stroke-width="3" stroke-linejoin="round" textLength="8.8" lengthAdjust="spacingAndGlyphs">8</text>
<text x="846.5" y="263" font-size="14.4" text-anchor="middle" fill="#000" stroke="#000" stroke-width="0.35" textLength="8.8" lengthAdjust="spacingAndGlyphs">8</text>
<text x="752.5" y="315" font-size="14.4" text-anchor="middle" fill="#fff" stroke="#fff" stroke-width="3" stroke-linejoin="round" textLength="17.7" lengthAdjust="spacingAndGlyphs">13</text>
<text x="752.5" y="315" font-size="14.4" text-anchor="middle" fill="#000" stroke="#000" stroke-width="0.35" textLength="17.7" lengthAdjust="spacingAndGlyphs">13</text>
<text x="807.5" y="307" font-size="14.4" text-anchor="middle" fill="#fff" stroke="#fff" stroke-width="3" stroke-linejoin="round" textLength="8.8" lengthAdjust="spacingAndGlyphs">0</text>
<text x="807.5" y="307" font-size="14.4" text-anchor="middle" fill="#000" stroke="#000" stroke-width="0.35" textLength="8.8" lengthAdjust="spacingAndGlyphs">0</text>
<text x="842.5" y="310" font-size="14.4" text-anchor="middle" fill="#fff" stroke="#fff" stroke-width="3" stroke-linejoin="round" textLength="8.8" lengthAdjust="spacingAndGlyphs">0</text>
<text x="842.5" y="310" font-size="14.4" text-anchor="middle" fill="#000" stroke="#000" stroke-width="0.35" textLength="8.8" lengthAdjust="spacingAndGlyphs">0</text>
<text x="780.5" y="325" font-size="14.4" text-anchor="middle" fill="#fff" stroke="#fff" stroke-width="3" stroke-linejoin="round" textLength="8.8" lengthAdjust="spacingAndGlyphs">0</text>
<text x="780.5" y="325" font-size="14.4" text-anchor="middle" fill="#000" stroke="#000" stroke-width="0.35" textLength="8.8" lengthAdjust="spacingAndGlyphs">0</text>
<text x="823.5" y="334" font-size="14.4" text-anchor="middle" fill="#fff" stroke="#fff" stroke-width="3" stroke-linejoin="round" textLength="8.8" lengthAdjust="spacingAndGlyphs">0</text>
<text x="823.5" y="334" font-size="14.4" text-anchor="middle" fill="#000" stroke="#000" stroke-width="0.35" textLength="8.8" lengthAdjust="spacingAndGlyphs">0</text>
<text x="759.5" y="360" font-size="14.4" text-anchor="middle" fill="#fff" stroke="#fff" stroke-width="3" stroke-linejoin="round" textLength="8.8" lengthAdjust="spacingAndGlyphs">0</text>
<text x="759.5" y="360" font-size="14.4" text-anchor="middle" fill="#000" stroke="#000" stroke-width="0.35" textLength="8.8" lengthAdjust="spacingAndGlyphs">0</text>
<text x="721.5" y="377" font-size="14.4" text-anchor="middle" fill="#fff" stroke="#fff" stroke-width="3" stroke-linejoin="round" textLength="8.8" lengthAdjust="spacingAndGlyphs">0</text>
<text x="721.5" y="377" font-size="14.4" text-anchor="middle" fill="#000" stroke="#000" stroke-width="0.35" textLength="8.8" lengthAdjust="spacingAndGlyphs">0</text>
<text x="800.5" y="368" font-size="14.4" text-anchor="middle" fill="#fff" stroke="#fff" stroke-width="3" stroke-linejoin="round" textLength="8.8" lengthAdjust="spacingAndGlyphs">0</text>
<text x="800.5" y="368" font-size="14.4" text-anchor="middle" fill="#000" stroke="#000" stroke-width="0.35" textLength="8.8" lengthAdjust="spacingAndGlyphs">0</text>
<text x="707.5" y="417" font-size="14.4" text-anchor="middle" fill="#fff" stroke="#fff" stroke-width="3" stroke-linejoin="round" textLength="8.8" lengthAdjust="spacingAndGlyphs">0</text>
<text x="707.5" y="417" font-size="14.4" text-anchor="middle" fill="#000" stroke="#000" stroke-width="0.35" textLength="8.8" lengthAdjust="spacingAndGlyphs">0</text>
<text x="762.5" y="402" font-size="14.4" text-anchor="middle" fill="#fff" stroke="#fff" stroke-width="3" stroke-linejoin="round" textLength="8.8" lengthAdjust="spacingAndGlyphs">0</text>
<text x="762.5" y="402" font-size="14.4" text-anchor="middle" fill="#000" stroke="#000" stroke-width="0.35" textLength="8.8" lengthAdjust="spacingAndGlyphs">0</text>
<text x="733.5" y="444" font-size="14.4" text-anchor="middle" fill="#fff" stroke="#fff" stroke-width="3" stroke-linejoin="round" textLength="8.8" lengthAdjust="spacingAndGlyphs">0</text>
<text x="733.5" y="444" font-size="14.4" text-anchor="middle" fill="#000" stroke="#000" stroke-width="0.35" textLength="8.8" lengthAdjust="spacingAndGlyphs">0</text>
<text x="758.5" y="469" font-size="14.4" text-anchor="middle" fill="#fff" stroke="#fff" stroke-width="3" stroke-linejoin="round" textLength="26.5" lengthAdjust="spacingAndGlyphs">701</text>
<text x="758.5" y="469" font-size="14.4" text-anchor="middle" fill="#000" stroke="#000" stroke-width="0.35" textLength="26.5" lengthAdjust="spacingAndGlyphs">701</text>
<text x="763.5" y="501" font-size="14.4" text-anchor="middle" fill="#fff" stroke="#fff" stroke-width="3" stroke-linejoin="round" textLength="35.4" lengthAdjust="spacingAndGlyphs">1075</text>
<text x="763.5" y="501" font-size="14.4" text-anchor="middle" fill="#000" stroke="#000" stroke-width="0.35" textLength="35.4" lengthAdjust="spacingAndGlyphs">1075</text>
<text x="728.5" y="515" font-size="14.4" text-anchor="middle" fill="#fff" stroke="#fff" stroke-width="3" stroke-linejoin="round" textLength="26.5" lengthAdjust="spacingAndGlyphs">736</text>
<text x="728.5" y="515" font-size="14.4" text-anchor="middle" fill="#000" stroke="#000" stroke-width="0.35" textLength="26.5" lengthAdjust="spacingAndGlyphs">736</text>
<text x="735.5" y="541" font-size="14.4" text-anchor="middle" fill="#fff" stroke="#fff" stroke-width="3" stroke-linejoin="round" textLength="35.4" lengthAdjust="spacingAndGlyphs">1075</text>
<text x="735.5" y="541" font-size="14.4" text-anchor="middle" fill="#000" stroke="#000" stroke-width="0.35" textLength="35.4" lengthAdjust="spacingAndGlyphs">1075</text>
<clipPath id="akc"><rect x="15.5" y="572.3" width="256.0" height="160"/></clipPath>
<rect x="15.5" y="572.3" width="256.0" height="160" fill="#7b9fcc"/>
<g clip-path="url(#akc)">
<path d="M210.3,611.3 L220.1,610.7 L228,612.1 L235.9,613.3 L243.8,611.7 L251.7,609.7 L277.3,607.4 L277.3,700.5 L260.6,692.6 L254.6,684.7 L247.7,678.8 L239.9,674.8 L232,670.9 L224.1,665.9 L216.2,662 L210.3,660Z" fill="#fff"/>
<path d="M87,654.1 L97.8,654.1 L109.7,652.1 L121.5,649.2 L133.3,645.2 L143.2,642.9 L152.1,640.9 L153.1,644.2 L164.9,643.6 L172.8,642.9 L182.7,643.6 L192.5,645.2 L202.4,649.2 L209.3,654.1 L210.3,659 L210.3,660 L200.4,659.4 L192.5,659 L186.6,658 L178.7,657.1 L170.8,657.1 L164.9,658 L161,661 L157,662 L151.1,664 L146.2,665.9 L141.2,667.9 L135.3,670.9 L129.4,674.2 L122.5,678.2 L113.6,682.1 L101.8,686.1 L93.9,689 L84,693 L74.2,695.9 L68.3,697.5 L74.2,694.5 L84,690.6 L93.9,687.6 L103.8,683.7 L113.6,680.7 L121.5,676.8 L127.4,670.9 L129.4,666.9 L125.5,666.5 L119.5,665.9 L111.6,666.9 L104.7,665.9 L103.8,662 L101.8,658 L93.9,657.1 L87,656.1Z" fill="#3b6edf"/>
<path d="M80.1,618.6 L84,615.6 L93.9,614.7 L99.8,610.7 L109.7,607.8 L121.5,605.8 L131.4,603.4 L141.2,605.8 L153.1,607.8 L164.9,608.7 L178.7,609.3 L192.5,609.7 L210.3,611.3 L210.3,659 L209.3,654.1 L202.4,649.2 L192.5,645.2 L182.7,643.6 L172.8,642.9 L164.9,643.6 L153.1,644.2 L152.1,640.9 L143.2,642.9 L133.3,645.2 L121.5,649.2 L109.7,652.1 L97.8,654.1 L87,654.1 L87,656.1 L83,652.7 L86,649.2 L91.9,646.2 L99.8,644.2 L107.7,641.7 L109.7,637.3 L99.8,637.3 L90,636.4 L80.1,634.4 L74.2,631.8 L84,629.4 L93.9,628.5 L103.8,628.5 L112.6,627.5 L103.8,625.5 L93.9,622.5 L86,620.6Z" fill="#8cb5f2"/>
<path d="M87,656.1 L83,652.7 L86,649.2 L91.9,646.2 L99.8,644.2 L107.7,641.7 L109.7,637.3 L99.8,637.3 L90,636.4 L80.1,634.4 L74.2,631.8 L84,629.4 L93.9,628.5 L103.8,628.5 L112.6,627.5 L103.8,625.5 L93.9,622.5 L86,620.6 L80.1,618.6 L84,615.6 L93.9,614.7 L99.8,610.7 L109.7,607.8 L121.5,605.8 L131.4,603.4 L141.2,605.8 L153.1,607.8 L164.9,608.7 L178.7,609.3 L192.5,609.7 L210.3,611.3" fill="none" stroke="#000" stroke-width="1.7" stroke-linejoin="round"/>
<path d="M87,656.1 L93.9,657.1 L101.8,658 L103.8,662 L104.7,665.9 L111.6,666.9 L119.5,665.9 L125.5,666.5 L129.4,666.9 L127.4,670.9 L121.5,676.8 L113.6,680.7 L103.8,683.7 L93.9,687.6 L84,690.6 L74.2,694.5 L68.3,697.5 L74.2,695.9 L84,693 L93.9,689 L101.8,686.1 L113.6,682.1 L122.5,678.2 L129.4,674.2 L135.3,670.9 L141.2,667.9 L146.2,665.9 L151.1,664 L157,662 L161,661 L164.9,658 L170.8,657.1 L178.7,657.1 L186.6,658 L192.5,659 L200.4,659.4 L210.3,660" fill="none" stroke="#000" stroke-width="1.9" stroke-linejoin="round"/>
<path d="M210.3,611.3 L210.3,660" fill="none" stroke="#000" stroke-width="1.2"/>
<path d="M210.3,611.3 L220.1,610.7 L228,612.1 L235.9,613.3 L243.8,611.7 L251.7,609.7 L277.3,607.4" fill="none" stroke="#000" stroke-width="1.6" stroke-linejoin="round"/>
<path d="M68.3,697.5 L62.3,698.1 L56.4,698.9" fill="none" stroke="#000" stroke-width="2.2" stroke-dasharray="5 1.5"/>
<path d="M50.5,700.1 L38.7,701.4 L29.8,702.4 L21.9,702.8" fill="none" stroke="#000" stroke-width="2" stroke-dasharray="6 2 3 1.5"/>
<path d="M210.3,660 L216.2,661 L224.1,665 L232,669.9 L239.9,674.4 L247.7,678.4 L254.6,684.3 L260.6,691.6 L265.5,700.5 L257.6,700.5 L249.7,690.6 L241.8,683.7 L233.9,678.8 L226,672.8 L218.2,666.9 L212.2,663Z" fill="#0a0f24" stroke="#000" stroke-width="1.2"/>
<path d="M248.7,692.6 L254.6,697.5 L258.6,704.4 L251.7,699.5Z" fill="#000"/>
<path d="M141.2,674.8 L149.1,669.9 L155,668.9 L153.1,672.8 L145.2,677.8Z" fill="#000" stroke="#000" stroke-width="1.2" stroke-linejoin="round"/>
<path d="M76.1,660 L82.1,658.6 L86.4,660 L83,662 L77.1,661.4Z" fill="#000" stroke="#000" stroke-width="1.2" stroke-linejoin="round"/>
<path d="M53.5,642.3 L60.4,641.7 L70.2,643.6 L66.3,645.6 L57.4,644.2Z" fill="#000" stroke="#000" stroke-width="1.2" stroke-linejoin="round"/>
<path d="M47.5,658 L52.5,658.4 L52.1,659.6 L47.9,659.2Z" fill="#000" stroke="#000" stroke-width="1.2" stroke-linejoin="round"/>
<path d="M61,674.4 L62.7,674.8 L62.3,676Z" fill="#000" stroke="#000" stroke-width="1.2" stroke-linejoin="round"/>
<path d="M64.3,677.4 L66.3,678 L65.5,679Z" fill="#000" stroke="#000" stroke-width="1.2" stroke-linejoin="round"/>
<path d="M151.1,667.9 L156,665.9 L157.4,667.3 L153.1,669.3Z" fill="#000" stroke="#000" stroke-width="1.2" stroke-linejoin="round"/>
<path d="M13,616.6 L22.9,619.6 L32.8,622.5 L40.6,625.5 L50.5,625.1 L58.4,628.5 L64.3,630.4 L57.4,632.4 L52.5,634.4 L48.5,638.3 L42.6,637.3 L34.7,634.4 L24.9,632.4 L13,630.4Z" fill="#fff" stroke="#000" stroke-width="1.5" stroke-linejoin="round"/>
<path d="M13,602.8 L22.9,602.8 L25.3,604.2 L13,605.4Z" fill="#fff" stroke="#000" stroke-width="1.5" stroke-linejoin="round"/>
<path d="M248.8,658.7 L254.5,661.5" stroke="#8cb5f2" stroke-width="1.5"/>
<text x="148.1" y="632.8" font-size="14.4" text-anchor="middle" fill="#fff" stroke="#fff" stroke-width="3" stroke-linejoin="round" textLength="17.7" lengthAdjust="spacingAndGlyphs">18</text>
<text x="148.1" y="632.8" font-size="14.4" text-anchor="middle" fill="#000" stroke="#000" stroke-width="0.35" textLength="17.7" lengthAdjust="spacingAndGlyphs">18</text>
<text x="149.6" y="663.4" font-size="14.4" text-anchor="middle" fill="#fff" stroke="#fff" stroke-width="3" stroke-linejoin="round" textLength="17.7" lengthAdjust="spacingAndGlyphs">13</text>
<text x="149.6" y="663.4" font-size="14.4" text-anchor="middle" fill="#000" stroke="#000" stroke-width="0.35" textLength="17.7" lengthAdjust="spacingAndGlyphs">13</text>
<text x="239.6" y="676.6" font-size="14.4" text-anchor="middle" fill="#fff" stroke="#fff" stroke-width="3" stroke-linejoin="round" textLength="17.7" lengthAdjust="spacingAndGlyphs">13</text>
<text x="239.6" y="676.6" font-size="14.4" text-anchor="middle" fill="#000" stroke="#000" stroke-width="0.35" textLength="17.7" lengthAdjust="spacingAndGlyphs">13</text>
</g>
<rect x="15.5" y="572.3" width="256.0" height="160" fill="none" stroke="#000" stroke-width="1.1"/>
<rect x="481.5" y="649.5" width="205.39999999999998" height="90" fill="#7b9fcc" stroke="#000" stroke-width="1.1"/>
<path d="M530.5,660.7 L533.1,659 L534.6,660.7 L531.8,663Z" fill="#f5c15a" stroke="#000" stroke-width="1.3" stroke-linejoin="round"/>
<path d="M539.3,655.7 L544.3,654 L549.3,656.2 L548.1,660.7 L542.6,661.2Z" fill="#f5c15a" stroke="#000" stroke-width="1.3" stroke-linejoin="round"/>
<path d="M568.9,666.2 L574.4,664 L576.9,667 L580.6,672 L575.6,672.8 L571.9,670.3Z" fill="#f5c15a" stroke="#000" stroke-width="1.3" stroke-linejoin="round"/>
<path d="M587.7,673.8 L594.4,672.8 L599.4,674.3 L598.2,676.8 L589.4,676.3Z" fill="#f5c15a" stroke="#000" stroke-width="1.3" stroke-linejoin="round"/>
<path d="M591.9,680 L595.7,679 L597.4,681.3 L593.9,682.8Z" fill="#f5c15a" stroke="#000" stroke-width="1.3" stroke-linejoin="round"/>
<path d="M599.4,678.3 L604.4,677 L606.9,679.5 L612.7,680.8 L612,684.5 L605.7,683.8 L602.7,681.3Z" fill="#f5c15a" stroke="#000" stroke-width="1.3" stroke-linejoin="round"/>
<path d="M617,694.6 L625.7,693.3 L630.7,703.3 L635.8,707.1 L630.7,710.8 L618.2,716.3 L614.5,713.3 L615.7,705.8 L612,699.6Z" fill="#f5c15a" stroke="#000" stroke-width="1.3" stroke-linejoin="round"/>
<text x="605.2" y="697" font-size="14.4" text-anchor="middle" fill="#fff" stroke="#fff" stroke-width="3" stroke-linejoin="round" textLength="26.5" lengthAdjust="spacingAndGlyphs">288</text>
<text x="605.2" y="697" font-size="14.4" text-anchor="middle" fill="#000" stroke="#000" stroke-width="0.35" textLength="26.5" lengthAdjust="spacingAndGlyphs">288</text>
<rect x="799.4" y="649.5" width="128.10000000000002" height="90" fill="#7b9fcc" stroke="#000" stroke-width="1.1"/>
<path d="M829.7,674.2 L834.4,667.9 L843.1,667.5 L858.9,668.2 L874.6,668.6 L887.3,670.2 L898.3,672.6 L901.1,677.3 L899.1,682.8 L893.6,687.6 L888.8,690.7 L874.6,692.3 L858.9,690.7 L843.1,691.5 L832.8,692 L834.4,683.6 L830.5,677.3Z" fill="#fff" stroke="#000" stroke-width="1.5" stroke-linejoin="round"/>
<path d="M902.4,684.5 L912.9,682 L914.9,683.8 L905.4,685.8Z" fill="#fff" stroke="#000" stroke-width="1.2"/>
<path d="M912.4,675 L915.4,674.3 L916.4,676.5 L913.4,677Z" fill="#000"/>
<path d="M801,685.3 L804,684 L805.7,686.3 L802.7,687.8Z" fill="#fff" stroke="#000" stroke-width="1.2"/>
<path d="M865.3,680.3 L868.3,680.3" stroke="#000" stroke-width="1"/>
</g>
<rect x="10.5" y="77.5" width="920.0" height="651.5" fill="none" stroke="#000" stroke-width="1.1"/>
<text x="92" y="40.3" font-size="25" stroke="#000" stroke-width="0.3" textLength="643" lengthAdjust="spacingAndGlyphs">Days since Last Winter Storm Watch by NWS Office</text>
<text x="92" y="65.8" font-size="16.6" stroke="#000" stroke-width="0.2" textLength="238" lengthAdjust="spacingAndGlyphs">Valid 14 Dec 2020 2133 UTC</text>
<g id="logo">
<path d="M8.9,8.4 L71.1,8.0 L71.6,10.4 L73.1,11.4 L72.6,13.9 L74.1,17.9 L73.6,20.9 L78.5,25.8 L81.5,30.8 L82.5,33.8 L80.5,38.3 L77.0,41.7 L73.6,44.7 L71.1,47.2 L72.1,51.7 L70.1,54.2 L71.1,57.7 L68.6,62.1 L64.6,58.6 L17.9,58.4 L16.9,53.7 L14.9,46.7 L13.4,39.8 L11.4,32.8 L9.9,24.9 L9.4,17.9 L10.4,12.9 Z" fill="#fff" stroke="#c8605c" stroke-width="1"/>
<text x="20.8" y="55.2" font-size="21.5" font-style="italic" fill="#b22b2b" style="font-family:'Liberation Serif',serif" textLength="35.5" lengthAdjust="spacingAndGlyphs">IEM</text>
<g stroke="#1a1aa8" fill="none" stroke-width="1.7" stroke-linecap="round"><path d="M32.3,28.9 L63.6,28.9"/><path d="M32.3,28.9 L23.6,15"/><path d="M23.6,15 L21.8,13.2 M23.6,15 L24.4,12.5 M25.2,17.6 L26.3,14.6 M22.4,16.2 L21.6,14.8"/><path d="M63.6,22.5 L63.6,33.5"/><path d="M60,23 L70,23.2"/><path d="M66,33 L66,41.5"/><path d="M63.6,33.5 L64.5,36 L66,37"/><path d="M64,37.8 L68.2,36.2 M68.2,34 L68.2,38.5 M59.8,34.5 L59.8,36"/></g>
<ellipse cx="32.3" cy="28.9" rx="2.7" ry="3.1" fill="#1a1aa8"/><path d="M50.2,17.6 L54.2,17.8 L58.8,21.4 L60,22.8 L54.5,23.4 Z" fill="#1a1aa8" stroke="#1a1aa8" stroke-width="0.6"/>
<g fill="#1a1aa8"><circle cx="24.5" cy="27.8" r="1"/><circle cx="23.4" cy="31.6" r="1"/><circle cx="26.6" cy="31.6" r="1"/><circle cx="59.3" cy="35.2" r="1.2"/></g>
</g>
<rect x="938.8" y="105.50" width="20.5" height="51.03" fill="#f6c9c9"/>
<rect x="938.8" y="156.23" width="20.5" height="51.03" fill="#ac8e85"/>
<rect x="938.8" y="206.96" width="20.5" height="51.03" fill="#5e3d36"/>
<rect x="938.8" y="257.69" width="20.5" height="51.03" fill="#e84a27"/>
<rect x="938.8" y="308.42" width="20.5" height="51.03" fill="#f5c15a"/>
<rect x="938.8" y="359.15" width="20.5" height="51.03" fill="#c3f8b6"/>
<rect x="938.8" y="409.88" width="20.5" height="51.03" fill="#6cc655"/>
<rect x="938.8" y="460.61" width="20.5" height="51.03" fill="#e6ffff"/>
<rect x="938.8" y="511.34" width="20.5" height="51.03" fill="#8cb5f2"/>
<rect x="938.8" y="562.07" width="20.5" height="51.03" fill="#3b6edf"/>
<rect x="938.8" y="612.80" width="20.5" height="51.03" fill="#969696"/>
<path d="M938.8,105.5 L949.05,78 L959.3,105.5 Z" fill="#b5403e"/>
<path d="M938.8,663.53 L949.05,691 L959.3,663.53 Z" fill="#e3e3e3"/>
<path d="M938.8,105.5 L949.05,78 L959.3,105.5 L959.3,663.53 L949.05,691 L938.8,663.53 Z" fill="none" stroke="#000" stroke-width="1"/>
<path d="M959.3,105.50 h4.5" stroke="#000" stroke-width="1"/>
<text x="970.3" y="113.80" font-size="22.6" stroke="#000" stroke-width="0.3" textLength="56.4" lengthAdjust="spacingAndGlyphs">3800</text>
<path d="M959.3,156.23 h4.5" stroke="#000" stroke-width="1"/>
<text x="970.3" y="164.53" font-size="22.6" stroke="#000" stroke-width="0.3" textLength="56.4" lengthAdjust="spacingAndGlyphs">2920</text>
<path d="M959.3,206.96 h4.5" stroke="#000" stroke-width="1"/>
<text x="970.3" y="215.26" font-size="22.6" stroke="#000" stroke-width="0.3" textLength="56.4" lengthAdjust="spacingAndGlyphs">1460</text>
<path d="M959.3,257.69 h4.5" stroke="#000" stroke-width="1"/>
<text x="970.3" y="265.99" font-size="22.6" stroke="#000" stroke-width="0.3" textLength="42.3" lengthAdjust="spacingAndGlyphs">730</text>
<path d="M959.3,308.42 h4.5" stroke="#000" stroke-width="1"/>
<text x="970.3" y="316.72" font-size="22.6" stroke="#000" stroke-width="0.3" textLength="42.3" lengthAdjust="spacingAndGlyphs">365</text>
<path d="M959.3,359.15 h4.5" stroke="#000" stroke-width="1"/>
<text x="970.3" y="367.45" font-size="22.6" stroke="#000" stroke-width="0.3" textLength="42.3" lengthAdjust="spacingAndGlyphs">273</text>
<path d="M959.3,409.88 h4.5" stroke="#000" stroke-width="1"/>
<text x="970.3" y="418.18" font-size="22.6" stroke="#000" stroke-width="0.3" textLength="42.3" lengthAdjust="spacingAndGlyphs">182</text>
<path d="M959.3,460.61 h4.5" stroke="#000" stroke-width="1"/>
<text x="970.3" y="468.91" font-size="22.6" stroke="#000" stroke-width="0.3" textLength="28.2" lengthAdjust="spacingAndGlyphs">91</text>
<path d="M959.3,511.34 h4.5" stroke="#000" stroke-width="1"/>
<text x="970.3" y="519.64" font-size="22.6" stroke="#000" stroke-width="0.3" textLength="28.2" lengthAdjust="spacingAndGlyphs">31</text>
<path d="M959.3,562.07 h4.5" stroke="#000" stroke-width="1"/>
<text x="970.3" y="570.37" font-size="22.6" stroke="#000" stroke-width="0.3" textLength="28.2" lengthAdjust="spacingAndGlyphs">14</text>
<path d="M959.3,612.80 h4.5" stroke="#000" stroke-width="1"/>
<text x="970.3" y="621.10" font-size="22.6" stroke="#000" stroke-width="0.3" textLength="14.1" lengthAdjust="spacingAndGlyphs">1</text>
<path d="M959.3,663.53 h4.5" stroke="#000" stroke-width="1"/>
<text x="970.3" y="671.83" font-size="22.6" stroke="#000" stroke-width="0.3" textLength="14.1" lengthAdjust="spacingAndGlyphs">0</text>
</svg></body></html>
